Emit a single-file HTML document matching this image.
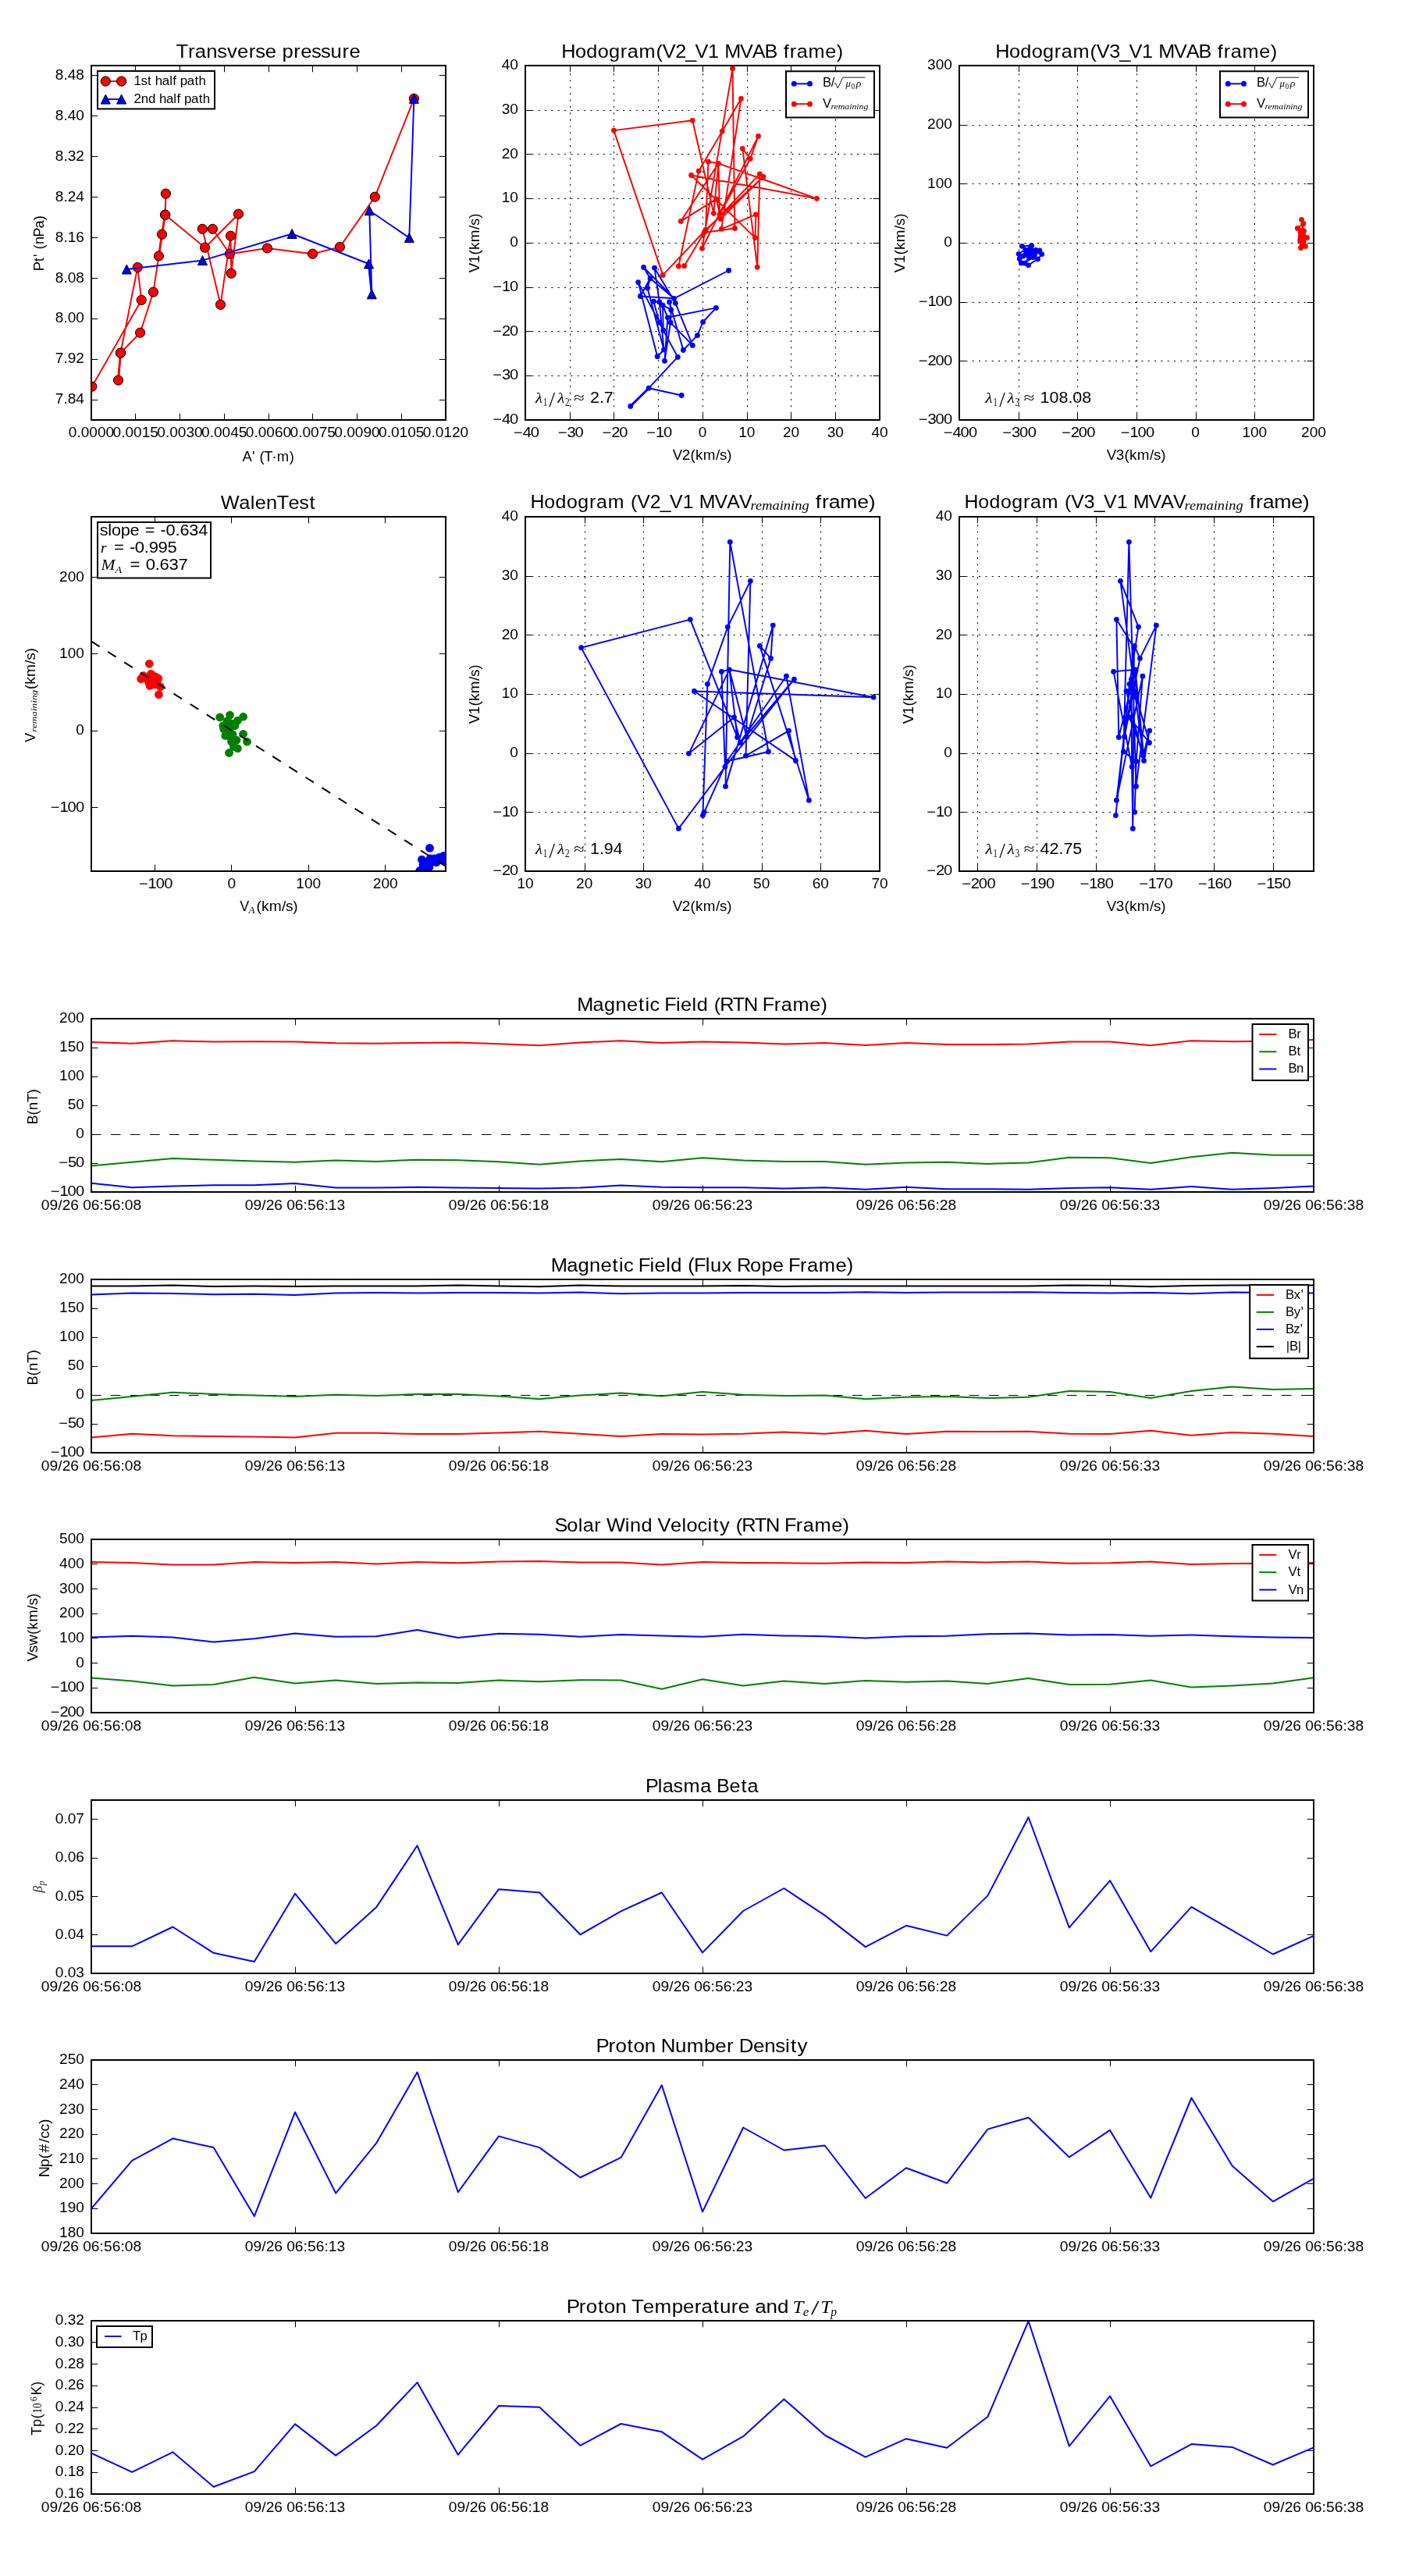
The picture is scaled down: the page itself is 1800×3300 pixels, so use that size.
<!DOCTYPE html>
<html><head><meta charset="utf-8"><title>Flux rope analysis</title>
<style>html,body{margin:0;padding:0;background:#fff}svg{display:block}text{white-space:pre}</style>
</head><body>
<div style="will-change:transform;width:1800px;height:3300px">
<svg width="1800" height="3300" viewBox="0 0 1800 3300">
<rect x="0" y="0" width="1800" height="3300" fill="#ffffff"/>
<line x1="117.50" y1="538.00" x2="117.50" y2="529.70" stroke="#000000" stroke-width="1.00"/>
<line x1="117.50" y1="84.00" x2="117.50" y2="92.30" stroke="#000000" stroke-width="1.00"/>
<text transform="translate(87.84 560.00) scale(1.0632 1)" x="-0.00 9.98 14.96 24.94 34.91 44.89" y="0" font-family='"Liberation Sans", sans-serif' font-size="17.94" fill="#000000">0.0000</text>
<line x1="173.50" y1="538.00" x2="173.50" y2="529.70" stroke="#000000" stroke-width="1.00"/>
<line x1="173.50" y1="84.00" x2="173.50" y2="92.30" stroke="#000000" stroke-width="1.00"/>
<text transform="translate(144.59 560.00) scale(1.0632 1)" x="-0.00 9.98 14.96 24.94 34.91 44.89" y="0" font-family='"Liberation Sans", sans-serif' font-size="17.94" fill="#000000">0.0015</text>
<line x1="230.50" y1="538.00" x2="230.50" y2="529.70" stroke="#000000" stroke-width="1.00"/>
<line x1="230.50" y1="84.00" x2="230.50" y2="92.30" stroke="#000000" stroke-width="1.00"/>
<text transform="translate(201.34 560.00) scale(1.0632 1)" x="-0.00 9.98 14.96 24.94 34.91 44.89" y="0" font-family='"Liberation Sans", sans-serif' font-size="17.94" fill="#000000">0.0030</text>
<line x1="287.50" y1="538.00" x2="287.50" y2="529.70" stroke="#000000" stroke-width="1.00"/>
<line x1="287.50" y1="84.00" x2="287.50" y2="92.30" stroke="#000000" stroke-width="1.00"/>
<text transform="translate(258.09 560.00) scale(1.0632 1)" x="-0.00 9.98 14.96 24.94 34.91 44.89" y="0" font-family='"Liberation Sans", sans-serif' font-size="17.94" fill="#000000">0.0045</text>
<line x1="344.50" y1="538.00" x2="344.50" y2="529.70" stroke="#000000" stroke-width="1.00"/>
<line x1="344.50" y1="84.00" x2="344.50" y2="92.30" stroke="#000000" stroke-width="1.00"/>
<text transform="translate(314.84 560.00) scale(1.0632 1)" x="-0.00 9.98 14.96 24.94 34.91 44.89" y="0" font-family='"Liberation Sans", sans-serif' font-size="17.94" fill="#000000">0.0060</text>
<line x1="400.50" y1="538.00" x2="400.50" y2="529.70" stroke="#000000" stroke-width="1.00"/>
<line x1="400.50" y1="84.00" x2="400.50" y2="92.30" stroke="#000000" stroke-width="1.00"/>
<text transform="translate(371.59 560.00) scale(1.0632 1)" x="-0.00 9.98 14.96 24.94 34.91 44.89" y="0" font-family='"Liberation Sans", sans-serif' font-size="17.94" fill="#000000">0.0075</text>
<line x1="457.50" y1="538.00" x2="457.50" y2="529.70" stroke="#000000" stroke-width="1.00"/>
<line x1="457.50" y1="84.00" x2="457.50" y2="92.30" stroke="#000000" stroke-width="1.00"/>
<text transform="translate(428.34 560.00) scale(1.0632 1)" x="-0.00 9.98 14.96 24.94 34.91 44.89" y="0" font-family='"Liberation Sans", sans-serif' font-size="17.94" fill="#000000">0.0090</text>
<line x1="514.50" y1="538.00" x2="514.50" y2="529.70" stroke="#000000" stroke-width="1.00"/>
<line x1="514.50" y1="84.00" x2="514.50" y2="92.30" stroke="#000000" stroke-width="1.00"/>
<text transform="translate(485.09 560.00) scale(1.0632 1)" x="-0.00 9.98 14.96 24.94 34.91 44.89" y="0" font-family='"Liberation Sans", sans-serif' font-size="17.94" fill="#000000">0.0105</text>
<line x1="571.50" y1="538.00" x2="571.50" y2="529.70" stroke="#000000" stroke-width="1.00"/>
<line x1="571.50" y1="84.00" x2="571.50" y2="92.30" stroke="#000000" stroke-width="1.00"/>
<text transform="translate(541.84 560.00) scale(1.0632 1)" x="-0.00 9.98 14.96 24.94 34.91 44.89" y="0" font-family='"Liberation Sans", sans-serif' font-size="17.94" fill="#000000">0.0120</text>
<line x1="117.00" y1="512.50" x2="125.30" y2="512.50" stroke="#000000" stroke-width="1.00"/>
<line x1="571.00" y1="512.50" x2="562.70" y2="512.50" stroke="#000000" stroke-width="1.00"/>
<text transform="translate(70.78 517.26) scale(1.0632 1)" x="-0.00 9.98 14.96 24.93" y="0" font-family='"Liberation Sans", sans-serif' font-size="17.94" fill="#000000">7.84</text>
<line x1="117.00" y1="460.50" x2="125.30" y2="460.50" stroke="#000000" stroke-width="1.00"/>
<line x1="571.00" y1="460.50" x2="562.70" y2="460.50" stroke="#000000" stroke-width="1.00"/>
<text transform="translate(70.78 465.37) scale(1.0632 1)" x="-0.00 9.98 14.96 24.93" y="0" font-family='"Liberation Sans", sans-serif' font-size="17.94" fill="#000000">7.92</text>
<line x1="117.00" y1="408.50" x2="125.30" y2="408.50" stroke="#000000" stroke-width="1.00"/>
<line x1="571.00" y1="408.50" x2="562.70" y2="408.50" stroke="#000000" stroke-width="1.00"/>
<text transform="translate(70.78 413.49) scale(1.0632 1)" x="-0.00 9.98 14.96 24.93" y="0" font-family='"Liberation Sans", sans-serif' font-size="17.94" fill="#000000">8.00</text>
<line x1="117.00" y1="356.50" x2="125.30" y2="356.50" stroke="#000000" stroke-width="1.00"/>
<line x1="571.00" y1="356.50" x2="562.70" y2="356.50" stroke="#000000" stroke-width="1.00"/>
<text transform="translate(70.78 361.60) scale(1.0632 1)" x="-0.00 9.98 14.96 24.93" y="0" font-family='"Liberation Sans", sans-serif' font-size="17.94" fill="#000000">8.08</text>
<line x1="117.00" y1="304.50" x2="125.30" y2="304.50" stroke="#000000" stroke-width="1.00"/>
<line x1="571.00" y1="304.50" x2="562.70" y2="304.50" stroke="#000000" stroke-width="1.00"/>
<text transform="translate(70.78 309.71) scale(1.0632 1)" x="-0.00 9.98 14.96 24.93" y="0" font-family='"Liberation Sans", sans-serif' font-size="17.94" fill="#000000">8.16</text>
<line x1="117.00" y1="252.50" x2="125.30" y2="252.50" stroke="#000000" stroke-width="1.00"/>
<line x1="571.00" y1="252.50" x2="562.70" y2="252.50" stroke="#000000" stroke-width="1.00"/>
<text transform="translate(70.78 257.83) scale(1.0632 1)" x="-0.00 9.98 14.96 24.93" y="0" font-family='"Liberation Sans", sans-serif' font-size="17.94" fill="#000000">8.24</text>
<line x1="117.00" y1="200.50" x2="125.30" y2="200.50" stroke="#000000" stroke-width="1.00"/>
<line x1="571.00" y1="200.50" x2="562.70" y2="200.50" stroke="#000000" stroke-width="1.00"/>
<text transform="translate(70.78 205.94) scale(1.0632 1)" x="-0.00 9.98 14.96 24.93" y="0" font-family='"Liberation Sans", sans-serif' font-size="17.94" fill="#000000">8.32</text>
<line x1="117.00" y1="148.50" x2="125.30" y2="148.50" stroke="#000000" stroke-width="1.00"/>
<line x1="571.00" y1="148.50" x2="562.70" y2="148.50" stroke="#000000" stroke-width="1.00"/>
<text transform="translate(70.78 154.06) scale(1.0632 1)" x="-0.00 9.98 14.96 24.93" y="0" font-family='"Liberation Sans", sans-serif' font-size="17.94" fill="#000000">8.40</text>
<line x1="117.00" y1="96.50" x2="125.30" y2="96.50" stroke="#000000" stroke-width="1.00"/>
<line x1="571.00" y1="96.50" x2="562.70" y2="96.50" stroke="#000000" stroke-width="1.00"/>
<text transform="translate(70.78 102.17) scale(1.0632 1)" x="-0.00 9.98 14.96 24.93" y="0" font-family='"Liberation Sans", sans-serif' font-size="17.94" fill="#000000">8.48</text>
<clipPath id="c1"><rect x="117" y="84" width="454" height="454"/></clipPath><g clip-path="url(#c1)">
<polyline fill="none" stroke="#ff0000" stroke-width="1.95" stroke-linejoin="round" points="117.8,495.2 181.2,384.4 176.3,342.5 154.4,452.3 151.5,487.1 154.6,452.0 179.6,426.2 196.4,374.2 203.4,328.0 207.5,300.2 211.5,275.1 212.4,248.1 211.8,275.3 262.5,317.2 305.5,274.2 296.3,350.2 295.5,302.2 282.5,390.3 259.3,293.3 272.4,293.3 294.3,325.2 342.4,318.0 400.5,325.2 435.4,316.4 480.3,252.2 530.4,126.3"/>
<path fill="none" stroke="#ff0000" stroke-width="2.90" stroke-linecap="round" d="M154.4 452.3L151.5 487.1 M203.4 328.0L207.5 300.2 M207.5 300.2L211.5 275.1"/>
<circle cx="117.8" cy="495.2" r="6.1" fill="#ff0000" stroke="#000" stroke-width="1"/>
<circle cx="181.2" cy="384.4" r="6.1" fill="#ff0000" stroke="#000" stroke-width="1"/>
<circle cx="176.3" cy="342.5" r="6.1" fill="#ff0000" stroke="#000" stroke-width="1"/>
<circle cx="154.4" cy="452.3" r="6.1" fill="#ff0000" stroke="#000" stroke-width="1"/>
<circle cx="151.5" cy="487.1" r="6.1" fill="#ff0000" stroke="#000" stroke-width="1"/>
<circle cx="154.6" cy="452.0" r="6.1" fill="#ff0000" stroke="#000" stroke-width="1"/>
<circle cx="179.6" cy="426.2" r="6.1" fill="#ff0000" stroke="#000" stroke-width="1"/>
<circle cx="196.4" cy="374.2" r="6.1" fill="#ff0000" stroke="#000" stroke-width="1"/>
<circle cx="203.4" cy="328.0" r="6.1" fill="#ff0000" stroke="#000" stroke-width="1"/>
<circle cx="207.5" cy="300.2" r="6.1" fill="#ff0000" stroke="#000" stroke-width="1"/>
<circle cx="211.5" cy="275.1" r="6.1" fill="#ff0000" stroke="#000" stroke-width="1"/>
<circle cx="212.4" cy="248.1" r="6.1" fill="#ff0000" stroke="#000" stroke-width="1"/>
<circle cx="211.8" cy="275.3" r="6.1" fill="#ff0000" stroke="#000" stroke-width="1"/>
<circle cx="262.5" cy="317.2" r="6.1" fill="#ff0000" stroke="#000" stroke-width="1"/>
<circle cx="305.5" cy="274.2" r="6.1" fill="#ff0000" stroke="#000" stroke-width="1"/>
<circle cx="296.3" cy="350.2" r="6.1" fill="#ff0000" stroke="#000" stroke-width="1"/>
<circle cx="295.5" cy="302.2" r="6.1" fill="#ff0000" stroke="#000" stroke-width="1"/>
<circle cx="282.5" cy="390.3" r="6.1" fill="#ff0000" stroke="#000" stroke-width="1"/>
<circle cx="259.3" cy="293.3" r="6.1" fill="#ff0000" stroke="#000" stroke-width="1"/>
<circle cx="272.4" cy="293.3" r="6.1" fill="#ff0000" stroke="#000" stroke-width="1"/>
<circle cx="294.3" cy="325.2" r="6.1" fill="#ff0000" stroke="#000" stroke-width="1"/>
<circle cx="342.4" cy="318.0" r="6.1" fill="#ff0000" stroke="#000" stroke-width="1"/>
<circle cx="400.5" cy="325.2" r="6.1" fill="#ff0000" stroke="#000" stroke-width="1"/>
<circle cx="435.4" cy="316.4" r="6.1" fill="#ff0000" stroke="#000" stroke-width="1"/>
<circle cx="480.3" cy="252.2" r="6.1" fill="#ff0000" stroke="#000" stroke-width="1"/>
<circle cx="530.4" cy="126.3" r="6.1" fill="#ff0000" stroke="#000" stroke-width="1"/>
<polyline fill="none" stroke="#0000ff" stroke-width="1.95" stroke-linejoin="round" points="162.3,345.0 259.5,333.6 374.1,299.5 472.5,338.0 476.3,376.8 473.3,269.7 524.3,304.6 530.4,126.3"/>
<path fill="none" stroke="#0000ff" stroke-width="2.90" stroke-linecap="round" d="M472.5 338.0L476.3 376.8"/>
<path d="M162.3 339.0L156.3 351.0L168.3 351.0Z" fill="#0000ff" stroke="#000" stroke-width="1"/>
<path d="M259.5 327.6L253.5 339.6L265.5 339.6Z" fill="#0000ff" stroke="#000" stroke-width="1"/>
<path d="M374.1 293.5L368.1 305.5L380.1 305.5Z" fill="#0000ff" stroke="#000" stroke-width="1"/>
<path d="M472.5 332.0L466.5 344.0L478.5 344.0Z" fill="#0000ff" stroke="#000" stroke-width="1"/>
<path d="M476.3 370.8L470.3 382.8L482.3 382.8Z" fill="#0000ff" stroke="#000" stroke-width="1"/>
<path d="M473.3 263.7L467.3 275.7L479.3 275.7Z" fill="#0000ff" stroke="#000" stroke-width="1"/>
<path d="M524.3 298.6L518.3 310.6L530.3 310.6Z" fill="#0000ff" stroke="#000" stroke-width="1"/>
<path d="M530.4 120.3L524.4 132.3L536.4 132.3Z" fill="#0000ff" stroke="#000" stroke-width="1"/>
</g>
<rect x="117" y="84" width="454" height="454" fill="none" stroke="#000" stroke-width="2"/>
<text transform="translate(226.41 74.00) scale(1.0373 1)" x="-0.78 13.99 22.58 36.40 49.90 62.23 74.92 89.06 97.33 109.23 123.02 130.14 144.49 153.11 166.41 177.96 190.07 204.41 213.03" y="0" font-family='"Liberation Sans", sans-serif' font-size="24.72" fill="#000000">Transverse pressure</text>
<text transform="translate(310.99 590.90) scale(1.0284 1)" x="-0.44 11.60 15.63 20.87 26.49 36.51 42.50 58.04" y="0" font-family='"Liberation Sans", sans-serif' font-size="17.94" fill="#000000">A' (T·m)</text>
<text transform="rotate(-90 55.70 311.00) translate(20.54 311.00) scale(1.0158 1)" x="-1.03 10.62 16.87 20.96 26.27 32.67 41.83 52.80 63.03" y="0" font-family='"Liberation Sans", sans-serif' font-size="17.94" fill="#000000">Pt' (nPa)</text>
<rect x="125.0" y="91.0" width="150.0" height="48.5" fill="#fff" stroke="#000" stroke-width="2"/>
<line x1="135.30" y1="104.10" x2="155.60" y2="104.10" stroke="#ff0000" stroke-width="1.95"/>
<circle cx="135.3" cy="104.1" r="6.1" fill="#ff0000" stroke="#000" stroke-width="1"/>
<circle cx="155.6" cy="104.1" r="6.1" fill="#ff0000" stroke="#000" stroke-width="1"/>
<line x1="135.30" y1="127.10" x2="155.60" y2="127.10" stroke="#0000ff" stroke-width="1.95"/>
<path d="M135.3 121.1L129.3 133.1L141.3 133.1Z" fill="#0000ff" stroke="#000" stroke-width="1"/>
<path d="M155.6 121.1L149.6 133.1L161.6 133.1Z" fill="#0000ff" stroke="#000" stroke-width="1"/>
<text transform="translate(171.60 109.20) scale(1.0200 1)" x="-0.07 8.66 17.04 22.11 26.60 35.51 44.65 48.69 53.48 57.97 66.89 76.39 81.40" y="0" font-family='"Liberation Sans", sans-serif' font-size="16.62" fill="#000000">1st half path</text>
<text transform="translate(171.60 132.00) scale(1.0149 1)" x="-0.05 9.07 18.18 27.34 31.86 40.82 49.99 54.05 58.86 63.39 72.35 81.89 86.94" y="0" font-family='"Liberation Sans", sans-serif' font-size="16.62" fill="#000000">2nd half path</text>
<line x1="730.50" y1="538.00" x2="730.50" y2="84.00" stroke="#000000" stroke-width="1.00" stroke-dasharray="2.0833,6.25"/>
<line x1="786.50" y1="538.00" x2="786.50" y2="84.00" stroke="#000000" stroke-width="1.00" stroke-dasharray="2.0833,6.25"/>
<line x1="843.50" y1="538.00" x2="843.50" y2="84.00" stroke="#000000" stroke-width="1.00" stroke-dasharray="2.0833,6.25"/>
<line x1="900.50" y1="538.00" x2="900.50" y2="84.00" stroke="#000000" stroke-width="1.00" stroke-dasharray="2.0833,6.25"/>
<line x1="957.50" y1="538.00" x2="957.50" y2="84.00" stroke="#000000" stroke-width="1.00" stroke-dasharray="2.0833,6.25"/>
<line x1="1013.50" y1="538.00" x2="1013.50" y2="84.00" stroke="#000000" stroke-width="1.00" stroke-dasharray="2.0833,6.25"/>
<line x1="1070.50" y1="538.00" x2="1070.50" y2="84.00" stroke="#000000" stroke-width="1.00" stroke-dasharray="2.0833,6.25"/>
<line x1="673.00" y1="481.50" x2="1127.00" y2="481.50" stroke="#000000" stroke-width="1.00" stroke-dasharray="2.0833,6.25"/>
<line x1="673.00" y1="424.50" x2="1127.00" y2="424.50" stroke="#000000" stroke-width="1.00" stroke-dasharray="2.0833,6.25"/>
<line x1="673.00" y1="368.50" x2="1127.00" y2="368.50" stroke="#000000" stroke-width="1.00" stroke-dasharray="2.0833,6.25"/>
<line x1="673.00" y1="311.50" x2="1127.00" y2="311.50" stroke="#000000" stroke-width="1.00" stroke-dasharray="2.0833,6.25"/>
<line x1="673.00" y1="254.50" x2="1127.00" y2="254.50" stroke="#000000" stroke-width="1.00" stroke-dasharray="2.0833,6.25"/>
<line x1="673.00" y1="197.50" x2="1127.00" y2="197.50" stroke="#000000" stroke-width="1.00" stroke-dasharray="2.0833,6.25"/>
<line x1="673.00" y1="141.50" x2="1127.00" y2="141.50" stroke="#000000" stroke-width="1.00" stroke-dasharray="2.0833,6.25"/>
<line x1="673.50" y1="538.00" x2="673.50" y2="529.70" stroke="#000000" stroke-width="1.00"/>
<line x1="673.50" y1="84.00" x2="673.50" y2="92.30" stroke="#000000" stroke-width="1.00"/>
<text transform="translate(655.41 560.00) scale(1.1200 1)" x="2.34 12.75 21.69" y="0" font-family='"Liberation Sans", sans-serif' font-size="17.94" fill="#000000">−40</text>
<line x1="730.50" y1="538.00" x2="730.50" y2="529.70" stroke="#000000" stroke-width="1.00"/>
<line x1="730.50" y1="84.00" x2="730.50" y2="92.30" stroke="#000000" stroke-width="1.00"/>
<text transform="translate(712.16 560.00) scale(1.1200 1)" x="2.34 12.75 21.69" y="0" font-family='"Liberation Sans", sans-serif' font-size="17.94" fill="#000000">−30</text>
<line x1="786.50" y1="538.00" x2="786.50" y2="529.70" stroke="#000000" stroke-width="1.00"/>
<line x1="786.50" y1="84.00" x2="786.50" y2="92.30" stroke="#000000" stroke-width="1.00"/>
<text transform="translate(768.91 560.00) scale(1.1200 1)" x="2.34 12.75 21.69" y="0" font-family='"Liberation Sans", sans-serif' font-size="17.94" fill="#000000">−20</text>
<line x1="843.50" y1="538.00" x2="843.50" y2="529.70" stroke="#000000" stroke-width="1.00"/>
<line x1="843.50" y1="84.00" x2="843.50" y2="92.30" stroke="#000000" stroke-width="1.00"/>
<text transform="translate(825.66 560.00) scale(1.1200 1)" x="2.34 12.75 21.69" y="0" font-family='"Liberation Sans", sans-serif' font-size="17.94" fill="#000000">−10</text>
<line x1="900.50" y1="538.00" x2="900.50" y2="529.70" stroke="#000000" stroke-width="1.00"/>
<line x1="900.50" y1="84.00" x2="900.50" y2="92.30" stroke="#000000" stroke-width="1.00"/>
<text transform="translate(894.70 560.00) scale(1.0632 1)" x="0.00" y="0" font-family='"Liberation Sans", sans-serif' font-size="17.94" fill="#000000">0</text>
<line x1="957.50" y1="538.00" x2="957.50" y2="529.70" stroke="#000000" stroke-width="1.00"/>
<line x1="957.50" y1="84.00" x2="957.50" y2="92.30" stroke="#000000" stroke-width="1.00"/>
<text transform="translate(946.14 560.00) scale(1.0632 1)" x="0.00 9.98" y="0" font-family='"Liberation Sans", sans-serif' font-size="17.94" fill="#000000">10</text>
<line x1="1013.50" y1="538.00" x2="1013.50" y2="529.70" stroke="#000000" stroke-width="1.00"/>
<line x1="1013.50" y1="84.00" x2="1013.50" y2="92.30" stroke="#000000" stroke-width="1.00"/>
<text transform="translate(1002.89 560.00) scale(1.0632 1)" x="0.00 9.98" y="0" font-family='"Liberation Sans", sans-serif' font-size="17.94" fill="#000000">20</text>
<line x1="1070.50" y1="538.00" x2="1070.50" y2="529.70" stroke="#000000" stroke-width="1.00"/>
<line x1="1070.50" y1="84.00" x2="1070.50" y2="92.30" stroke="#000000" stroke-width="1.00"/>
<text transform="translate(1059.64 560.00) scale(1.0632 1)" x="0.00 9.98" y="0" font-family='"Liberation Sans", sans-serif' font-size="17.94" fill="#000000">30</text>
<line x1="1127.50" y1="538.00" x2="1127.50" y2="529.70" stroke="#000000" stroke-width="1.00"/>
<line x1="1127.50" y1="84.00" x2="1127.50" y2="92.30" stroke="#000000" stroke-width="1.00"/>
<text transform="translate(1116.39 560.00) scale(1.0632 1)" x="0.00 9.98" y="0" font-family='"Liberation Sans", sans-serif' font-size="17.94" fill="#000000">40</text>
<line x1="673.00" y1="538.50" x2="681.30" y2="538.50" stroke="#000000" stroke-width="1.00"/>
<line x1="1127.00" y1="538.50" x2="1118.70" y2="538.50" stroke="#000000" stroke-width="1.00"/>
<text transform="translate(628.72 543.20) scale(1.1200 1)" x="2.34 12.75 21.69" y="0" font-family='"Liberation Sans", sans-serif' font-size="17.94" fill="#000000">−40</text>
<line x1="673.00" y1="481.50" x2="681.30" y2="481.50" stroke="#000000" stroke-width="1.00"/>
<line x1="1127.00" y1="481.50" x2="1118.70" y2="481.50" stroke="#000000" stroke-width="1.00"/>
<text transform="translate(628.72 486.45) scale(1.1200 1)" x="2.34 12.75 21.69" y="0" font-family='"Liberation Sans", sans-serif' font-size="17.94" fill="#000000">−30</text>
<line x1="673.00" y1="424.50" x2="681.30" y2="424.50" stroke="#000000" stroke-width="1.00"/>
<line x1="1127.00" y1="424.50" x2="1118.70" y2="424.50" stroke="#000000" stroke-width="1.00"/>
<text transform="translate(628.72 429.70) scale(1.1200 1)" x="2.34 12.75 21.69" y="0" font-family='"Liberation Sans", sans-serif' font-size="17.94" fill="#000000">−20</text>
<line x1="673.00" y1="368.50" x2="681.30" y2="368.50" stroke="#000000" stroke-width="1.00"/>
<line x1="1127.00" y1="368.50" x2="1118.70" y2="368.50" stroke="#000000" stroke-width="1.00"/>
<text transform="translate(628.72 372.95) scale(1.1200 1)" x="2.34 12.75 21.69" y="0" font-family='"Liberation Sans", sans-serif' font-size="17.94" fill="#000000">−10</text>
<line x1="673.00" y1="311.50" x2="681.30" y2="311.50" stroke="#000000" stroke-width="1.00"/>
<line x1="1127.00" y1="311.50" x2="1118.70" y2="311.50" stroke="#000000" stroke-width="1.00"/>
<text transform="translate(653.29 316.20) scale(1.0632 1)" x="0.00" y="0" font-family='"Liberation Sans", sans-serif' font-size="17.94" fill="#000000">0</text>
<line x1="673.00" y1="254.50" x2="681.30" y2="254.50" stroke="#000000" stroke-width="1.00"/>
<line x1="1127.00" y1="254.50" x2="1118.70" y2="254.50" stroke="#000000" stroke-width="1.00"/>
<text transform="translate(642.69 259.45) scale(1.0632 1)" x="0.00 9.98" y="0" font-family='"Liberation Sans", sans-serif' font-size="17.94" fill="#000000">10</text>
<line x1="673.00" y1="197.50" x2="681.30" y2="197.50" stroke="#000000" stroke-width="1.00"/>
<line x1="1127.00" y1="197.50" x2="1118.70" y2="197.50" stroke="#000000" stroke-width="1.00"/>
<text transform="translate(642.69 202.70) scale(1.0632 1)" x="0.00 9.98" y="0" font-family='"Liberation Sans", sans-serif' font-size="17.94" fill="#000000">20</text>
<line x1="673.00" y1="141.50" x2="681.30" y2="141.50" stroke="#000000" stroke-width="1.00"/>
<line x1="1127.00" y1="141.50" x2="1118.70" y2="141.50" stroke="#000000" stroke-width="1.00"/>
<text transform="translate(642.69 145.95) scale(1.0632 1)" x="0.00 9.98" y="0" font-family='"Liberation Sans", sans-serif' font-size="17.94" fill="#000000">30</text>
<line x1="673.00" y1="84.50" x2="681.30" y2="84.50" stroke="#000000" stroke-width="1.00"/>
<line x1="1127.00" y1="84.50" x2="1118.70" y2="84.50" stroke="#000000" stroke-width="1.00"/>
<text transform="translate(642.69 89.20) scale(1.0632 1)" x="0.00 9.98" y="0" font-family='"Liberation Sans", sans-serif' font-size="17.94" fill="#000000">40</text>
<clipPath id="c2"><rect x="673" y="84" width="454" height="454"/></clipPath><g clip-path="url(#c2)">
<path fill="none" stroke="#ff0000" stroke-width="1.95" stroke-linecap="round" d="M786.4 167.1L887.2 154.3 M786.4 167.1L849.2 352.4 M887.2 154.3L914.3 273.3 M849.2 352.4L904.0 294.5 M938.5 87.7L941.4 292.5 M938.5 87.7L899.5 318.2 M949.4 126.4L925.2 168.3 M925.2 168.3L895.2 219.1 M949.4 126.4L924.3 293.3 M971.5 174.4L961.3 203.3 M951.3 190.3L961.3 203.3 M951.3 190.3L970.2 342.2 M973.4 222.8L970.2 342.2 M885.6 224.5L967.4 304.6 M885.6 224.5L1046.4 254.3 M920.4 209.3L1046.4 254.3 M920.4 209.3L872.3 283.4 M872.3 283.4L917.9 254.8 M895.2 219.1L869.4 341.0 M876.6 340.7L902.1 298.0 M941.4 292.5L902.1 298.0 M968.4 274.8L924.3 293.3 M968.4 274.8L967.4 304.6 M907.4 207.2L904.0 294.5 M971.5 174.4L899.5 318.2 M961.3 203.3L922.0 274.5 M973.4 222.8L902.1 298.0 M977.9 226.4L904.0 294.5 M920.4 209.3L922.0 274.5 M920.4 209.3L914.3 273.3 M917.9 254.8L923.2 280.5 M907.4 207.2L920.4 209.3 M977.9 226.4L923.2 280.5"/>
<circle cx="938.5" cy="87.7" r="3.40" fill="#ff0000"/>
<circle cx="949.4" cy="126.4" r="3.40" fill="#ff0000"/>
<circle cx="887.2" cy="154.3" r="3.40" fill="#ff0000"/>
<circle cx="786.4" cy="167.1" r="3.40" fill="#ff0000"/>
<circle cx="925.2" cy="168.3" r="3.40" fill="#ff0000"/>
<circle cx="971.5" cy="174.4" r="3.40" fill="#ff0000"/>
<circle cx="951.3" cy="190.3" r="3.40" fill="#ff0000"/>
<circle cx="961.3" cy="203.3" r="3.40" fill="#ff0000"/>
<circle cx="907.4" cy="207.2" r="3.40" fill="#ff0000"/>
<circle cx="920.4" cy="209.3" r="3.40" fill="#ff0000"/>
<circle cx="895.2" cy="219.1" r="3.40" fill="#ff0000"/>
<circle cx="885.6" cy="224.5" r="3.40" fill="#ff0000"/>
<circle cx="973.4" cy="222.8" r="3.40" fill="#ff0000"/>
<circle cx="977.9" cy="226.4" r="3.40" fill="#ff0000"/>
<circle cx="1046.4" cy="254.3" r="3.40" fill="#ff0000"/>
<circle cx="917.9" cy="254.8" r="3.40" fill="#ff0000"/>
<circle cx="914.3" cy="273.3" r="3.40" fill="#ff0000"/>
<circle cx="922.0" cy="274.5" r="3.40" fill="#ff0000"/>
<circle cx="923.2" cy="280.5" r="3.40" fill="#ff0000"/>
<circle cx="968.4" cy="274.8" r="3.40" fill="#ff0000"/>
<circle cx="872.3" cy="283.4" r="3.40" fill="#ff0000"/>
<circle cx="941.4" cy="292.5" r="3.40" fill="#ff0000"/>
<circle cx="924.3" cy="293.3" r="3.40" fill="#ff0000"/>
<circle cx="902.1" cy="298.0" r="3.40" fill="#ff0000"/>
<circle cx="904.0" cy="294.5" r="3.40" fill="#ff0000"/>
<circle cx="967.4" cy="304.6" r="3.40" fill="#ff0000"/>
<circle cx="899.5" cy="318.2" r="3.40" fill="#ff0000"/>
<circle cx="869.4" cy="341.0" r="3.40" fill="#ff0000"/>
<circle cx="876.6" cy="340.7" r="3.40" fill="#ff0000"/>
<circle cx="970.2" cy="342.2" r="3.40" fill="#ff0000"/>
<circle cx="849.2" cy="352.4" r="3.40" fill="#ff0000"/>
<path fill="none" stroke="#0000ff" stroke-width="1.95" stroke-linecap="round" d="M807.7 520.4L831.2 497.2 M831.2 497.2L873.2 506.5 M831.2 497.2L868.3 457.4 M868.3 457.4L849.8 423.2 M863.6 382.3L933.5 346.5 M917.4 394.4L900.6 412.5 M900.6 412.5L893.5 429.6 M893.5 429.6L875.4 448.5 M917.4 394.4L855.4 406.8 M865.4 388.3L887.3 442.4 M857.6 386.9L875.4 448.5 M859.0 413.2L887.3 442.4 M824.6 342.5L863.6 382.3 M833.0 356.7L863.6 382.3 M838.5 343.2L844.8 386.9 M844.8 386.9L850.5 448.1 M817.6 361.6L842.2 456.7 M817.6 361.6L844.8 413.2 M829.5 369.1L833.0 356.7 M829.5 369.1L850.5 448.1 M820.3 379.5L863.6 382.3 M820.3 379.5L833.0 356.7 M842.2 456.7L850.5 448.1 M851.5 462.3L855.4 406.8 M837.4 386.2L844.8 386.9 M844.8 386.9L849.0 390.9 M849.0 390.9L859.7 396.9 M859.7 396.9L859.0 413.2 M837.4 386.2L844.8 413.2 M849.0 390.9L849.8 423.2 M857.6 386.9L859.7 396.9 M855.4 406.8L849.0 390.9 M824.6 342.5L833.0 356.7 M838.5 343.2L865.4 388.3 M844.8 413.2L849.8 423.2 M851.5 462.3L859.0 413.2"/>
<path fill="none" stroke="#0000ff" stroke-width="3.00" stroke-linecap="round" d="M807.7 520.4L831.2 497.2"/>
<circle cx="824.6" cy="342.5" r="3.40" fill="#0000ff"/>
<circle cx="838.5" cy="343.2" r="3.40" fill="#0000ff"/>
<circle cx="833.0" cy="356.7" r="3.40" fill="#0000ff"/>
<circle cx="817.6" cy="361.6" r="3.40" fill="#0000ff"/>
<circle cx="829.5" cy="369.1" r="3.40" fill="#0000ff"/>
<circle cx="820.3" cy="379.5" r="3.40" fill="#0000ff"/>
<circle cx="863.6" cy="382.3" r="3.40" fill="#0000ff"/>
<circle cx="933.5" cy="346.5" r="3.40" fill="#0000ff"/>
<circle cx="837.4" cy="386.2" r="3.40" fill="#0000ff"/>
<circle cx="844.8" cy="386.9" r="3.40" fill="#0000ff"/>
<circle cx="857.6" cy="386.9" r="3.40" fill="#0000ff"/>
<circle cx="865.4" cy="388.3" r="3.40" fill="#0000ff"/>
<circle cx="849.0" cy="390.9" r="3.40" fill="#0000ff"/>
<circle cx="859.7" cy="396.9" r="3.40" fill="#0000ff"/>
<circle cx="917.4" cy="394.4" r="3.40" fill="#0000ff"/>
<circle cx="855.4" cy="406.8" r="3.40" fill="#0000ff"/>
<circle cx="844.8" cy="413.2" r="3.40" fill="#0000ff"/>
<circle cx="859.0" cy="413.2" r="3.40" fill="#0000ff"/>
<circle cx="900.6" cy="412.5" r="3.40" fill="#0000ff"/>
<circle cx="849.8" cy="423.2" r="3.40" fill="#0000ff"/>
<circle cx="893.5" cy="429.6" r="3.40" fill="#0000ff"/>
<circle cx="887.3" cy="442.4" r="3.40" fill="#0000ff"/>
<circle cx="875.4" cy="448.5" r="3.40" fill="#0000ff"/>
<circle cx="850.5" cy="448.1" r="3.40" fill="#0000ff"/>
<circle cx="842.2" cy="456.7" r="3.40" fill="#0000ff"/>
<circle cx="851.5" cy="462.3" r="3.40" fill="#0000ff"/>
<circle cx="868.3" cy="457.4" r="3.40" fill="#0000ff"/>
<circle cx="831.2" cy="497.2" r="3.40" fill="#0000ff"/>
<circle cx="873.2" cy="506.5" r="3.40" fill="#0000ff"/>
<circle cx="807.7" cy="520.4" r="3.40" fill="#0000ff"/>
</g>
<rect x="1007.0" y="91.3" width="113.0" height="59.2" fill="#fff" stroke="#000" stroke-width="2"/>
<line x1="1017.30" y1="107.30" x2="1037.50" y2="107.30" stroke="#0000ff" stroke-width="1.95"/>
<circle cx="1017.3" cy="107.3" r="3.50" fill="#0000ff"/>
<circle cx="1037.5" cy="107.3" r="3.50" fill="#0000ff"/>
<line x1="1017.30" y1="133.20" x2="1037.50" y2="133.20" stroke="#ff0000" stroke-width="1.95"/>
<circle cx="1017.3" cy="133.2" r="3.50" fill="#ff0000"/>
<circle cx="1037.5" cy="133.2" r="3.50" fill="#ff0000"/>
<text transform="translate(1054.50 110.70) scale(1.0000 1)" x="-0.54 10.15" y="0" font-family='"Liberation Sans", sans-serif' font-size="16.62" fill="#000000">B/</text>
<path d="M1068.9 107.5l1.5 -1.0l3.0 6.5l6.4 -13.8h28.4" fill="none" stroke="#000" stroke-width="0.9"/>
<text x="1083.60" y="111.20" font-family='"Liberation Serif", serif' font-size="13.20" font-style="italic" fill="#000000" textLength="6.40" lengthAdjust="spacingAndGlyphs">μ</text>
<text x="1090.50" y="113.60" font-family='"Liberation Serif", serif' font-size="9.40" fill="#000000" textLength="4.60" lengthAdjust="spacingAndGlyphs">0</text>
<text x="1096.70" y="111.20" font-family='"Liberation Serif", serif' font-size="13.20" font-style="italic" fill="#000000" textLength="6.60" lengthAdjust="spacingAndGlyphs">ρ</text>
<text transform="translate(1054.50 137.60) scale(1.0000 1)" x="-0.56" y="0" font-family='"Liberation Sans", sans-serif' font-size="16.62" fill="#000000">V</text>
<text x="1064.40" y="139.60" font-family='"Liberation Serif", serif' font-size="9.80" font-style="italic" fill="#000000" textLength="48.00" lengthAdjust="spacingAndGlyphs">remaining</text>
<text x="686.00" y="516.00" font-family='"Liberation Serif", serif' font-size="18.75" font-style="italic" fill="#000000" textLength="9.00" lengthAdjust="spacingAndGlyphs">λ</text>
<text x="696.00" y="519.90" font-family='"Liberation Serif", serif' font-size="14.50" fill="#000000" textLength="5.20" lengthAdjust="spacingAndGlyphs">1</text>
<text x="703.60" y="520.70" font-family='"Liberation Serif", serif' font-size="27.00" fill="#000000">/</text>
<text x="714.20" y="516.00" font-family='"Liberation Serif", serif' font-size="18.75" font-style="italic" fill="#000000" textLength="9.00" lengthAdjust="spacingAndGlyphs">λ</text>
<text x="724.00" y="519.90" font-family='"Liberation Serif", serif' font-size="14.50" fill="#000000" textLength="5.60" lengthAdjust="spacingAndGlyphs">2</text>
<text x="735.00" y="515.50" font-family='"Liberation Serif", serif' font-size="19.50" fill="#000000" textLength="13.80" lengthAdjust="spacingAndGlyphs">≈</text>
<text transform="translate(756.00 516.00) scale(1.0895 1)" x="-0.00 10.95 16.42" y="0" font-family='"Liberation Sans", sans-serif' font-size="19.69" fill="#000000">2.7</text>
<rect x="673" y="84" width="454" height="454" fill="none" stroke="#000" stroke-width="2"/>
<text transform="translate(719.66 74.00) scale(1.0213 1)" x="-0.46 16.95 30.98 45.02 59.06 73.59 82.36 96.81 118.35 126.32 142.55 155.35 167.31 183.54 197.73 204.16 223.63 239.03 254.46 270.58 278.12 286.03 294.80 309.25 330.56 344.64" y="0" font-family='"Liberation Sans", sans-serif' font-size="24.72" fill="#000000">Hodogram(V2_V1 MVAB frame)</text>
<text transform="translate(862.39 588.90) scale(1.0483 1)" x="-0.54 10.95 21.11 27.32 36.68 52.09 56.92 65.66" y="0" font-family='"Liberation Sans", sans-serif' font-size="17.94" fill="#000000">V2(km/s)</text>
<text transform="rotate(-90 613.50 311.00) translate(575.89 311.00) scale(1.0483 1)" x="-0.54 10.95 21.11 27.32 36.68 52.09 56.92 65.66" y="0" font-family='"Liberation Sans", sans-serif' font-size="17.94" fill="#000000">V1(km/s)</text>
<line x1="1305.50" y1="538.00" x2="1305.50" y2="84.00" stroke="#000000" stroke-width="1.00" stroke-dasharray="2.0833,6.25"/>
<line x1="1380.50" y1="538.00" x2="1380.50" y2="84.00" stroke="#000000" stroke-width="1.00" stroke-dasharray="2.0833,6.25"/>
<line x1="1456.50" y1="538.00" x2="1456.50" y2="84.00" stroke="#000000" stroke-width="1.00" stroke-dasharray="2.0833,6.25"/>
<line x1="1532.50" y1="538.00" x2="1532.50" y2="84.00" stroke="#000000" stroke-width="1.00" stroke-dasharray="2.0833,6.25"/>
<line x1="1607.50" y1="538.00" x2="1607.50" y2="84.00" stroke="#000000" stroke-width="1.00" stroke-dasharray="2.0833,6.25"/>
<line x1="1229.00" y1="462.50" x2="1683.00" y2="462.50" stroke="#000000" stroke-width="1.00" stroke-dasharray="2.0833,6.25"/>
<line x1="1229.00" y1="387.50" x2="1683.00" y2="387.50" stroke="#000000" stroke-width="1.00" stroke-dasharray="2.0833,6.25"/>
<line x1="1229.00" y1="311.50" x2="1683.00" y2="311.50" stroke="#000000" stroke-width="1.00" stroke-dasharray="2.0833,6.25"/>
<line x1="1229.00" y1="235.50" x2="1683.00" y2="235.50" stroke="#000000" stroke-width="1.00" stroke-dasharray="2.0833,6.25"/>
<line x1="1229.00" y1="160.50" x2="1683.00" y2="160.50" stroke="#000000" stroke-width="1.00" stroke-dasharray="2.0833,6.25"/>
<line x1="1229.50" y1="538.00" x2="1229.50" y2="529.70" stroke="#000000" stroke-width="1.00"/>
<line x1="1229.50" y1="84.00" x2="1229.50" y2="92.30" stroke="#000000" stroke-width="1.00"/>
<text transform="translate(1206.11 560.00) scale(1.1200 1)" x="2.34 12.75 21.69 31.16" y="0" font-family='"Liberation Sans", sans-serif' font-size="17.94" fill="#000000">−400</text>
<line x1="1305.50" y1="538.00" x2="1305.50" y2="529.70" stroke="#000000" stroke-width="1.00"/>
<line x1="1305.50" y1="84.00" x2="1305.50" y2="92.30" stroke="#000000" stroke-width="1.00"/>
<text transform="translate(1281.77 560.00) scale(1.1200 1)" x="2.34 12.75 21.69 31.16" y="0" font-family='"Liberation Sans", sans-serif' font-size="17.94" fill="#000000">−300</text>
<line x1="1380.50" y1="538.00" x2="1380.50" y2="529.70" stroke="#000000" stroke-width="1.00"/>
<line x1="1380.50" y1="84.00" x2="1380.50" y2="92.30" stroke="#000000" stroke-width="1.00"/>
<text transform="translate(1357.44 560.00) scale(1.1200 1)" x="2.34 12.75 21.69 31.16" y="0" font-family='"Liberation Sans", sans-serif' font-size="17.94" fill="#000000">−200</text>
<line x1="1456.50" y1="538.00" x2="1456.50" y2="529.70" stroke="#000000" stroke-width="1.00"/>
<line x1="1456.50" y1="84.00" x2="1456.50" y2="92.30" stroke="#000000" stroke-width="1.00"/>
<text transform="translate(1433.11 560.00) scale(1.1200 1)" x="2.34 12.75 21.69 31.16" y="0" font-family='"Liberation Sans", sans-serif' font-size="17.94" fill="#000000">−100</text>
<line x1="1532.50" y1="538.00" x2="1532.50" y2="529.70" stroke="#000000" stroke-width="1.00"/>
<line x1="1532.50" y1="84.00" x2="1532.50" y2="92.30" stroke="#000000" stroke-width="1.00"/>
<text transform="translate(1526.36 560.00) scale(1.0632 1)" x="0.00" y="0" font-family='"Liberation Sans", sans-serif' font-size="17.94" fill="#000000">0</text>
<line x1="1607.50" y1="538.00" x2="1607.50" y2="529.70" stroke="#000000" stroke-width="1.00"/>
<line x1="1607.50" y1="84.00" x2="1607.50" y2="92.30" stroke="#000000" stroke-width="1.00"/>
<text transform="translate(1591.42 560.00) scale(1.0632 1)" x="0.00 9.98 19.95" y="0" font-family='"Liberation Sans", sans-serif' font-size="17.94" fill="#000000">100</text>
<line x1="1683.50" y1="538.00" x2="1683.50" y2="529.70" stroke="#000000" stroke-width="1.00"/>
<line x1="1683.50" y1="84.00" x2="1683.50" y2="92.30" stroke="#000000" stroke-width="1.00"/>
<text transform="translate(1667.09 560.00) scale(1.0632 1)" x="0.00 9.98 19.95" y="0" font-family='"Liberation Sans", sans-serif' font-size="17.94" fill="#000000">200</text>
<line x1="1229.00" y1="538.50" x2="1237.30" y2="538.50" stroke="#000000" stroke-width="1.00"/>
<line x1="1683.00" y1="538.50" x2="1674.70" y2="538.50" stroke="#000000" stroke-width="1.00"/>
<text transform="translate(1174.11 543.20) scale(1.1200 1)" x="2.34 12.75 21.69 31.16" y="0" font-family='"Liberation Sans", sans-serif' font-size="17.94" fill="#000000">−300</text>
<line x1="1229.00" y1="462.50" x2="1237.30" y2="462.50" stroke="#000000" stroke-width="1.00"/>
<line x1="1683.00" y1="462.50" x2="1674.70" y2="462.50" stroke="#000000" stroke-width="1.00"/>
<text transform="translate(1174.11 467.53) scale(1.1200 1)" x="2.34 12.75 21.69 31.16" y="0" font-family='"Liberation Sans", sans-serif' font-size="17.94" fill="#000000">−200</text>
<line x1="1229.00" y1="387.50" x2="1237.30" y2="387.50" stroke="#000000" stroke-width="1.00"/>
<line x1="1683.00" y1="387.50" x2="1674.70" y2="387.50" stroke="#000000" stroke-width="1.00"/>
<text transform="translate(1174.11 391.87) scale(1.1200 1)" x="2.34 12.75 21.69 31.16" y="0" font-family='"Liberation Sans", sans-serif' font-size="17.94" fill="#000000">−100</text>
<line x1="1229.00" y1="311.50" x2="1237.30" y2="311.50" stroke="#000000" stroke-width="1.00"/>
<line x1="1683.00" y1="311.50" x2="1674.70" y2="311.50" stroke="#000000" stroke-width="1.00"/>
<text transform="translate(1209.29 316.20) scale(1.0632 1)" x="0.00" y="0" font-family='"Liberation Sans", sans-serif' font-size="17.94" fill="#000000">0</text>
<line x1="1229.00" y1="235.50" x2="1237.30" y2="235.50" stroke="#000000" stroke-width="1.00"/>
<line x1="1683.00" y1="235.50" x2="1674.70" y2="235.50" stroke="#000000" stroke-width="1.00"/>
<text transform="translate(1188.08 240.53) scale(1.0632 1)" x="0.00 9.98 19.95" y="0" font-family='"Liberation Sans", sans-serif' font-size="17.94" fill="#000000">100</text>
<line x1="1229.00" y1="160.50" x2="1237.30" y2="160.50" stroke="#000000" stroke-width="1.00"/>
<line x1="1683.00" y1="160.50" x2="1674.70" y2="160.50" stroke="#000000" stroke-width="1.00"/>
<text transform="translate(1188.08 164.87) scale(1.0632 1)" x="0.00 9.98 19.95" y="0" font-family='"Liberation Sans", sans-serif' font-size="17.94" fill="#000000">200</text>
<line x1="1229.00" y1="84.50" x2="1237.30" y2="84.50" stroke="#000000" stroke-width="1.00"/>
<line x1="1683.00" y1="84.50" x2="1674.70" y2="84.50" stroke="#000000" stroke-width="1.00"/>
<text transform="translate(1188.08 89.20) scale(1.0632 1)" x="0.00 9.98 19.95" y="0" font-family='"Liberation Sans", sans-serif' font-size="17.94" fill="#000000">300</text>
<clipPath id="c3"><rect x="1229" y="84" width="454" height="454"/></clipPath><g clip-path="url(#c3)">
<polyline fill="none" stroke="#0000ff" stroke-width="1.95" stroke-linejoin="round" points="1309.3,315.3 1321.6,314.7 1305.1,325.3 1306.2,331.5 1308.2,336.9 1313.0,337.2 1317.6,339.8 1329.5,331.8 1334.7,325.6 1331.8,321.0 1318.7,330.1 1317.0,324.4 1322.7,322.7 1325.5,326.0 1313.5,320.5 1311.0,328.0 1320.5,319.0 1327.0,320.5 1315.5,326.5 1323.5,329.5 1309.3,315.3 1322.7,322.7 1313.0,337.2 1331.8,321.0 1306.2,331.5 1317.0,324.4 1329.5,331.8 1313.5,320.5 1334.7,325.6"/>
<circle cx="1309.3" cy="315.3" r="3.40" fill="#0000ff"/>
<circle cx="1321.6" cy="314.7" r="3.40" fill="#0000ff"/>
<circle cx="1305.1" cy="325.3" r="3.40" fill="#0000ff"/>
<circle cx="1306.2" cy="331.5" r="3.40" fill="#0000ff"/>
<circle cx="1308.2" cy="336.9" r="3.40" fill="#0000ff"/>
<circle cx="1313.0" cy="337.2" r="3.40" fill="#0000ff"/>
<circle cx="1317.6" cy="339.8" r="3.40" fill="#0000ff"/>
<circle cx="1329.5" cy="331.8" r="3.40" fill="#0000ff"/>
<circle cx="1334.7" cy="325.6" r="3.40" fill="#0000ff"/>
<circle cx="1331.8" cy="321.0" r="3.40" fill="#0000ff"/>
<circle cx="1318.7" cy="330.1" r="3.40" fill="#0000ff"/>
<circle cx="1317.0" cy="324.4" r="3.40" fill="#0000ff"/>
<circle cx="1322.7" cy="322.7" r="3.40" fill="#0000ff"/>
<circle cx="1325.5" cy="326.0" r="3.40" fill="#0000ff"/>
<circle cx="1313.5" cy="320.5" r="3.40" fill="#0000ff"/>
<circle cx="1311.0" cy="328.0" r="3.40" fill="#0000ff"/>
<circle cx="1320.5" cy="319.0" r="3.40" fill="#0000ff"/>
<circle cx="1327.0" cy="320.5" r="3.40" fill="#0000ff"/>
<circle cx="1315.5" cy="326.5" r="3.40" fill="#0000ff"/>
<circle cx="1323.5" cy="329.5" r="3.40" fill="#0000ff"/>
<polyline fill="none" stroke="#ff0000" stroke-width="1.95" stroke-linejoin="round" points="1667.5,281.3 1669.8,286.5 1662.3,292.5 1667.0,295.5 1669.5,300.0 1666.0,303.5 1674.5,304.5 1665.5,308.0 1670.0,309.0 1668.0,313.0 1666.5,317.5 1672.5,315.5 1669.0,305.5 1666.5,299.0 1670.5,296.0 1667.5,281.3 1669.5,300.0 1662.3,292.5 1668.0,313.0 1674.5,304.5 1667.0,295.5 1672.5,315.5"/>
<circle cx="1667.5" cy="281.3" r="3.40" fill="#ff0000"/>
<circle cx="1669.8" cy="286.5" r="3.40" fill="#ff0000"/>
<circle cx="1662.3" cy="292.5" r="3.40" fill="#ff0000"/>
<circle cx="1667.0" cy="295.5" r="3.40" fill="#ff0000"/>
<circle cx="1669.5" cy="300.0" r="3.40" fill="#ff0000"/>
<circle cx="1666.0" cy="303.5" r="3.40" fill="#ff0000"/>
<circle cx="1674.5" cy="304.5" r="3.40" fill="#ff0000"/>
<circle cx="1665.5" cy="308.0" r="3.40" fill="#ff0000"/>
<circle cx="1670.0" cy="309.0" r="3.40" fill="#ff0000"/>
<circle cx="1668.0" cy="313.0" r="3.40" fill="#ff0000"/>
<circle cx="1666.5" cy="317.5" r="3.40" fill="#ff0000"/>
<circle cx="1672.5" cy="315.5" r="3.40" fill="#ff0000"/>
<circle cx="1669.0" cy="305.5" r="3.40" fill="#ff0000"/>
<circle cx="1666.5" cy="299.0" r="3.40" fill="#ff0000"/>
<circle cx="1670.5" cy="296.0" r="3.40" fill="#ff0000"/>
</g>
<rect x="1563.0" y="91.3" width="113.0" height="59.2" fill="#fff" stroke="#000" stroke-width="2"/>
<line x1="1573.30" y1="107.30" x2="1593.50" y2="107.30" stroke="#0000ff" stroke-width="1.95"/>
<circle cx="1573.3" cy="107.3" r="3.50" fill="#0000ff"/>
<circle cx="1593.5" cy="107.3" r="3.50" fill="#0000ff"/>
<line x1="1573.30" y1="133.20" x2="1593.50" y2="133.20" stroke="#ff0000" stroke-width="1.95"/>
<circle cx="1573.3" cy="133.2" r="3.50" fill="#ff0000"/>
<circle cx="1593.5" cy="133.2" r="3.50" fill="#ff0000"/>
<text transform="translate(1610.50 110.70) scale(1.0000 1)" x="-0.54 10.15" y="0" font-family='"Liberation Sans", sans-serif' font-size="16.62" fill="#000000">B/</text>
<path d="M1624.9 107.5l1.5 -1.0l3.0 6.5l6.4 -13.8h28.4" fill="none" stroke="#000" stroke-width="0.9"/>
<text x="1639.60" y="111.20" font-family='"Liberation Serif", serif' font-size="13.20" font-style="italic" fill="#000000" textLength="6.40" lengthAdjust="spacingAndGlyphs">μ</text>
<text x="1646.50" y="113.60" font-family='"Liberation Serif", serif' font-size="9.40" fill="#000000" textLength="4.60" lengthAdjust="spacingAndGlyphs">0</text>
<text x="1652.70" y="111.20" font-family='"Liberation Serif", serif' font-size="13.20" font-style="italic" fill="#000000" textLength="6.60" lengthAdjust="spacingAndGlyphs">ρ</text>
<text transform="translate(1610.50 137.60) scale(1.0000 1)" x="-0.56" y="0" font-family='"Liberation Sans", sans-serif' font-size="16.62" fill="#000000">V</text>
<text x="1620.40" y="139.60" font-family='"Liberation Serif", serif' font-size="9.80" font-style="italic" fill="#000000" textLength="48.00" lengthAdjust="spacingAndGlyphs">remaining</text>
<text x="1262.60" y="516.00" font-family='"Liberation Serif", serif' font-size="18.75" font-style="italic" fill="#000000" textLength="9.00" lengthAdjust="spacingAndGlyphs">λ</text>
<text x="1272.60" y="519.90" font-family='"Liberation Serif", serif' font-size="14.50" fill="#000000" textLength="5.20" lengthAdjust="spacingAndGlyphs">1</text>
<text x="1280.20" y="520.70" font-family='"Liberation Serif", serif' font-size="27.00" fill="#000000">/</text>
<text x="1290.80" y="516.00" font-family='"Liberation Serif", serif' font-size="18.75" font-style="italic" fill="#000000" textLength="9.00" lengthAdjust="spacingAndGlyphs">λ</text>
<text x="1300.60" y="519.90" font-family='"Liberation Serif", serif' font-size="14.50" fill="#000000" textLength="5.60" lengthAdjust="spacingAndGlyphs">3</text>
<text x="1311.60" y="515.50" font-family='"Liberation Serif", serif' font-size="19.50" fill="#000000" textLength="13.80" lengthAdjust="spacingAndGlyphs">≈</text>
<text transform="translate(1332.60 516.00) scale(1.0895 1)" x="-0.00 10.95 21.90 32.85 38.32 49.27" y="0" font-family='"Liberation Sans", sans-serif' font-size="19.69" fill="#000000">108.08</text>
<rect x="1229" y="84" width="454" height="454" fill="none" stroke="#000" stroke-width="2"/>
<text transform="translate(1275.66 74.00) scale(1.0213 1)" x="-0.46 16.95 30.98 45.02 59.06 73.59 82.36 96.81 118.35 126.32 142.55 155.35 167.31 183.54 197.73 204.16 223.63 239.03 254.46 270.58 278.12 286.03 294.80 309.25 330.56 344.64" y="0" font-family='"Liberation Sans", sans-serif' font-size="24.72" fill="#000000">Hodogram(V3_V1 MVAB frame)</text>
<text transform="translate(1418.39 588.90) scale(1.0483 1)" x="-0.54 10.95 21.11 27.32 36.68 52.09 56.92 65.66" y="0" font-family='"Liberation Sans", sans-serif' font-size="17.94" fill="#000000">V3(km/s)</text>
<text transform="rotate(-90 1158.70 311.00) translate(1121.09 311.00) scale(1.0483 1)" x="-0.54 10.95 21.11 27.32 36.68 52.09 56.92 65.66" y="0" font-family='"Liberation Sans", sans-serif' font-size="17.94" fill="#000000">V1(km/s)</text>
<line x1="198.50" y1="1116.00" x2="198.50" y2="1107.70" stroke="#000000" stroke-width="1.00"/>
<line x1="198.50" y1="662.00" x2="198.50" y2="670.30" stroke="#000000" stroke-width="1.00"/>
<text transform="translate(175.35 1138.00) scale(1.1200 1)" x="2.34 12.75 21.69 31.16" y="0" font-family='"Liberation Sans", sans-serif' font-size="17.94" fill="#000000">−100</text>
<line x1="296.50" y1="1116.00" x2="296.50" y2="1107.70" stroke="#000000" stroke-width="1.00"/>
<line x1="296.50" y1="662.00" x2="296.50" y2="670.30" stroke="#000000" stroke-width="1.00"/>
<text transform="translate(291.43 1138.00) scale(1.0632 1)" x="0.00" y="0" font-family='"Liberation Sans", sans-serif' font-size="17.94" fill="#000000">0</text>
<line x1="395.50" y1="1116.00" x2="395.50" y2="1107.70" stroke="#000000" stroke-width="1.00"/>
<line x1="395.50" y1="662.00" x2="395.50" y2="670.30" stroke="#000000" stroke-width="1.00"/>
<text transform="translate(379.30 1138.00) scale(1.0632 1)" x="0.00 9.98 19.95" y="0" font-family='"Liberation Sans", sans-serif' font-size="17.94" fill="#000000">100</text>
<line x1="493.50" y1="1116.00" x2="493.50" y2="1107.70" stroke="#000000" stroke-width="1.00"/>
<line x1="493.50" y1="662.00" x2="493.50" y2="670.30" stroke="#000000" stroke-width="1.00"/>
<text transform="translate(477.78 1138.00) scale(1.0632 1)" x="0.00 9.98 19.95" y="0" font-family='"Liberation Sans", sans-serif' font-size="17.94" fill="#000000">200</text>
<line x1="117.00" y1="1034.50" x2="125.30" y2="1034.50" stroke="#000000" stroke-width="1.00"/>
<line x1="571.00" y1="1034.50" x2="562.70" y2="1034.50" stroke="#000000" stroke-width="1.00"/>
<text transform="translate(62.11 1039.95) scale(1.1200 1)" x="2.34 12.75 21.69 31.16" y="0" font-family='"Liberation Sans", sans-serif' font-size="17.94" fill="#000000">−100</text>
<line x1="117.00" y1="936.50" x2="125.30" y2="936.50" stroke="#000000" stroke-width="1.00"/>
<line x1="571.00" y1="936.50" x2="562.70" y2="936.50" stroke="#000000" stroke-width="1.00"/>
<text transform="translate(97.29 941.47) scale(1.0632 1)" x="0.00" y="0" font-family='"Liberation Sans", sans-serif' font-size="17.94" fill="#000000">0</text>
<line x1="117.00" y1="837.50" x2="125.30" y2="837.50" stroke="#000000" stroke-width="1.00"/>
<line x1="571.00" y1="837.50" x2="562.70" y2="837.50" stroke="#000000" stroke-width="1.00"/>
<text transform="translate(76.08 842.99) scale(1.0632 1)" x="0.00 9.98 19.95" y="0" font-family='"Liberation Sans", sans-serif' font-size="17.94" fill="#000000">100</text>
<line x1="117.00" y1="739.50" x2="125.30" y2="739.50" stroke="#000000" stroke-width="1.00"/>
<line x1="571.00" y1="739.50" x2="562.70" y2="739.50" stroke="#000000" stroke-width="1.00"/>
<text transform="translate(76.08 744.51) scale(1.0632 1)" x="0.00 9.98 19.95" y="0" font-family='"Liberation Sans", sans-serif' font-size="17.94" fill="#000000">200</text>
<clipPath id="c4"><rect x="117" y="662" width="454" height="454"/></clipPath><g clip-path="url(#c4)">
<circle cx="191.3" cy="850.3" r="5.40" fill="#ff0000"/>
<circle cx="183.5" cy="865.6" r="5.40" fill="#ff0000"/>
<circle cx="180.6" cy="869.8" r="5.40" fill="#ff0000"/>
<circle cx="193.4" cy="863.4" r="5.40" fill="#ff0000"/>
<circle cx="199.1" cy="867.0" r="5.40" fill="#ff0000"/>
<circle cx="202.7" cy="869.1" r="5.40" fill="#ff0000"/>
<circle cx="190.6" cy="874.1" r="5.40" fill="#ff0000"/>
<circle cx="195.6" cy="872.7" r="5.40" fill="#ff0000"/>
<circle cx="192.0" cy="878.4" r="5.40" fill="#ff0000"/>
<circle cx="198.4" cy="876.9" r="5.40" fill="#ff0000"/>
<circle cx="205.5" cy="879.8" r="5.40" fill="#ff0000"/>
<circle cx="203.4" cy="889.8" r="5.40" fill="#ff0000"/>
<circle cx="187.5" cy="869.0" r="5.40" fill="#ff0000"/>
<circle cx="196.0" cy="868.0" r="5.40" fill="#ff0000"/>
<circle cx="201.0" cy="874.5" r="5.40" fill="#ff0000"/>
<circle cx="281.7" cy="918.9" r="5.40" fill="#008000"/>
<circle cx="294.5" cy="916.1" r="5.40" fill="#008000"/>
<circle cx="311.6" cy="918.2" r="5.40" fill="#008000"/>
<circle cx="304.4" cy="923.2" r="5.40" fill="#008000"/>
<circle cx="300.9" cy="929.6" r="5.40" fill="#008000"/>
<circle cx="290.9" cy="923.9" r="5.40" fill="#008000"/>
<circle cx="285.9" cy="929.6" r="5.40" fill="#008000"/>
<circle cx="286.7" cy="933.9" r="5.40" fill="#008000"/>
<circle cx="293.8" cy="935.3" r="5.40" fill="#008000"/>
<circle cx="288.8" cy="942.4" r="5.40" fill="#008000"/>
<circle cx="298.0" cy="941.0" r="5.40" fill="#008000"/>
<circle cx="311.6" cy="940.3" r="5.40" fill="#008000"/>
<circle cx="316.5" cy="950.2" r="5.40" fill="#008000"/>
<circle cx="296.6" cy="950.2" r="5.40" fill="#008000"/>
<circle cx="303.0" cy="948.1" r="5.40" fill="#008000"/>
<circle cx="304.4" cy="958.8" r="5.40" fill="#008000"/>
<circle cx="293.5" cy="964.5" r="5.40" fill="#008000"/>
<circle cx="299.5" cy="956.7" r="5.40" fill="#008000"/>
<circle cx="296.5" cy="927.0" r="5.40" fill="#008000"/>
<circle cx="292.0" cy="930.0" r="5.40" fill="#008000"/>
<circle cx="295.5" cy="944.5" r="5.40" fill="#008000"/>
<circle cx="550.5" cy="1086.4" r="5.40" fill="#0000ff"/>
<circle cx="540.4" cy="1101.2" r="5.40" fill="#0000ff"/>
<circle cx="542.0" cy="1107.7" r="5.40" fill="#0000ff"/>
<circle cx="551.2" cy="1099.8" r="5.40" fill="#0000ff"/>
<circle cx="554.1" cy="1104.1" r="5.40" fill="#0000ff"/>
<circle cx="549.8" cy="1111.2" r="5.40" fill="#0000ff"/>
<circle cx="537.7" cy="1115.5" r="5.40" fill="#0000ff"/>
<circle cx="562.6" cy="1098.4" r="5.40" fill="#0000ff"/>
<circle cx="568.3" cy="1096.3" r="5.40" fill="#0000ff"/>
<circle cx="571.2" cy="1098.4" r="5.40" fill="#0000ff"/>
<circle cx="559.1" cy="1104.8" r="5.40" fill="#0000ff"/>
<circle cx="546.0" cy="1104.0" r="5.40" fill="#0000ff"/>
<circle cx="565.5" cy="1101.0" r="5.40" fill="#0000ff"/>
<circle cx="556.5" cy="1100.0" r="5.40" fill="#0000ff"/>
<circle cx="574.0" cy="1095.0" r="5.40" fill="#0000ff"/>
<circle cx="570.0" cy="1102.5" r="5.40" fill="#0000ff"/>
<circle cx="545.0" cy="1112.0" r="5.40" fill="#0000ff"/>
<line x1="117.00" y1="821.60" x2="571.00" y2="1109.75" stroke="#000000" stroke-width="2.00" stroke-dasharray="12.5,12.5"/>
</g>
<rect x="117" y="662" width="454" height="454" fill="none" stroke="#000" stroke-width="2"/>
<text transform="translate(283.42 652.00) scale(1.0253 1)" x="-0.58 22.18 36.30 42.19 56.20 69.48 83.91 97.35 110.34" y="0" font-family='"Liberation Sans", sans-serif' font-size="24.72" fill="#000000">WalenTest</text>
<rect x="125.0" y="669.0" width="145.0" height="71.5" fill="#fff" stroke="#000" stroke-width="2"/>
<text transform="translate(128.30 686.30) scale(1.1008 1)" x="-0.48 9.05 13.34 23.96 34.60 45.29 52.12 64.98 70.21 76.51 87.37 92.76 103.60 114.43" y="0" font-family='"Liberation Sans", sans-serif' font-size="19.69" fill="#000000">slope = -0.634</text>
<text x="129.00" y="708.40" font-family='"Liberation Serif", serif' font-size="18.75" font-style="italic" fill="#000000" textLength="7.50" lengthAdjust="spacingAndGlyphs">r</text>
<text transform="translate(144.50 708.40) scale(1.1200 1)" x="1.26 13.95 19.09 25.24 35.97 41.21 51.86 62.52" y="0" font-family='"Liberation Sans", sans-serif' font-size="19.69" fill="#000000">= -0.995</text>
<text x="129.50" y="730.20" font-family='"Liberation Serif", serif' font-size="18.75" font-style="italic" fill="#000000" textLength="18.00" lengthAdjust="spacingAndGlyphs">M</text>
<text x="147.60" y="733.60" font-family='"Liberation Serif", serif' font-size="13.10" font-style="italic" fill="#000000" textLength="8.60" lengthAdjust="spacingAndGlyphs">A</text>
<text transform="translate(165.20 730.20) scale(1.1200 1)" x="1.26 13.95 19.20 29.93 35.17 45.82 56.47" y="0" font-family='"Liberation Sans", sans-serif' font-size="19.69" fill="#000000">= 0.637</text>
<text transform="translate(307.40 1167.30) scale(1.0000 1)" x="-0.28" y="0" font-family='"Liberation Sans", sans-serif' font-size="17.94" fill="#000000">V</text>
<text x="318.60" y="1170.20" font-family='"Liberation Serif", serif' font-size="11.70" font-style="italic" fill="#000000" textLength="8.00" lengthAdjust="spacingAndGlyphs">A</text>
<text transform="translate(328.40 1167.30) scale(1.0681 1)" x="0.06 6.12 15.26 30.47 35.17 43.78" y="0" font-family='"Liberation Sans", sans-serif' font-size="17.94" fill="#000000">(km/s)</text>
<text transform="rotate(-90 44.90 950.60) translate(44.90 950.60) scale(1.0000 1)" x="-0.28" y="0" font-family='"Liberation Sans", sans-serif' font-size="17.94" fill="#000000">V</text>
<text x="47.00" y="937.70" font-family='"Liberation Serif", serif' font-size="11.20" font-style="italic" fill="#000000" textLength="53.80" lengthAdjust="spacingAndGlyphs" transform="rotate(-90 47.00 937.70)">remaining</text>
<text transform="rotate(-90 44.90 883.30) translate(44.90 883.30) scale(1.0681 1)" x="0.06 6.12 15.26 30.47 35.17 43.78" y="0" font-family='"Liberation Sans", sans-serif' font-size="17.94" fill="#000000">(km/s)</text>
<line x1="749.50" y1="1116.00" x2="749.50" y2="662.00" stroke="#000000" stroke-width="1.00" stroke-dasharray="2.0833,6.25"/>
<line x1="824.50" y1="1116.00" x2="824.50" y2="662.00" stroke="#000000" stroke-width="1.00" stroke-dasharray="2.0833,6.25"/>
<line x1="900.50" y1="1116.00" x2="900.50" y2="662.00" stroke="#000000" stroke-width="1.00" stroke-dasharray="2.0833,6.25"/>
<line x1="976.50" y1="1116.00" x2="976.50" y2="662.00" stroke="#000000" stroke-width="1.00" stroke-dasharray="2.0833,6.25"/>
<line x1="1051.50" y1="1116.00" x2="1051.50" y2="662.00" stroke="#000000" stroke-width="1.00" stroke-dasharray="2.0833,6.25"/>
<line x1="673.00" y1="1040.50" x2="1127.00" y2="1040.50" stroke="#000000" stroke-width="1.00" stroke-dasharray="2.0833,6.25"/>
<line x1="673.00" y1="965.50" x2="1127.00" y2="965.50" stroke="#000000" stroke-width="1.00" stroke-dasharray="2.0833,6.25"/>
<line x1="673.00" y1="889.50" x2="1127.00" y2="889.50" stroke="#000000" stroke-width="1.00" stroke-dasharray="2.0833,6.25"/>
<line x1="673.00" y1="813.50" x2="1127.00" y2="813.50" stroke="#000000" stroke-width="1.00" stroke-dasharray="2.0833,6.25"/>
<line x1="673.00" y1="738.50" x2="1127.00" y2="738.50" stroke="#000000" stroke-width="1.00" stroke-dasharray="2.0833,6.25"/>
<line x1="673.50" y1="1116.00" x2="673.50" y2="1107.70" stroke="#000000" stroke-width="1.00"/>
<line x1="673.50" y1="662.00" x2="673.50" y2="670.30" stroke="#000000" stroke-width="1.00"/>
<text transform="translate(662.39 1138.00) scale(1.0632 1)" x="0.00 9.98" y="0" font-family='"Liberation Sans", sans-serif' font-size="17.94" fill="#000000">10</text>
<line x1="749.50" y1="1116.00" x2="749.50" y2="1107.70" stroke="#000000" stroke-width="1.00"/>
<line x1="749.50" y1="662.00" x2="749.50" y2="670.30" stroke="#000000" stroke-width="1.00"/>
<text transform="translate(738.06 1138.00) scale(1.0632 1)" x="0.00 9.98" y="0" font-family='"Liberation Sans", sans-serif' font-size="17.94" fill="#000000">20</text>
<line x1="824.50" y1="1116.00" x2="824.50" y2="1107.70" stroke="#000000" stroke-width="1.00"/>
<line x1="824.50" y1="662.00" x2="824.50" y2="670.30" stroke="#000000" stroke-width="1.00"/>
<text transform="translate(813.73 1138.00) scale(1.0632 1)" x="0.00 9.98" y="0" font-family='"Liberation Sans", sans-serif' font-size="17.94" fill="#000000">30</text>
<line x1="900.50" y1="1116.00" x2="900.50" y2="1107.70" stroke="#000000" stroke-width="1.00"/>
<line x1="900.50" y1="662.00" x2="900.50" y2="670.30" stroke="#000000" stroke-width="1.00"/>
<text transform="translate(889.39 1138.00) scale(1.0632 1)" x="0.00 9.98" y="0" font-family='"Liberation Sans", sans-serif' font-size="17.94" fill="#000000">40</text>
<line x1="976.50" y1="1116.00" x2="976.50" y2="1107.70" stroke="#000000" stroke-width="1.00"/>
<line x1="976.50" y1="662.00" x2="976.50" y2="670.30" stroke="#000000" stroke-width="1.00"/>
<text transform="translate(965.06 1138.00) scale(1.0632 1)" x="0.00 9.98" y="0" font-family='"Liberation Sans", sans-serif' font-size="17.94" fill="#000000">50</text>
<line x1="1051.50" y1="1116.00" x2="1051.50" y2="1107.70" stroke="#000000" stroke-width="1.00"/>
<line x1="1051.50" y1="662.00" x2="1051.50" y2="670.30" stroke="#000000" stroke-width="1.00"/>
<text transform="translate(1040.73 1138.00) scale(1.0632 1)" x="0.00 9.98" y="0" font-family='"Liberation Sans", sans-serif' font-size="17.94" fill="#000000">60</text>
<line x1="1127.50" y1="1116.00" x2="1127.50" y2="1107.70" stroke="#000000" stroke-width="1.00"/>
<line x1="1127.50" y1="662.00" x2="1127.50" y2="670.30" stroke="#000000" stroke-width="1.00"/>
<text transform="translate(1116.39 1138.00) scale(1.0632 1)" x="0.00 9.98" y="0" font-family='"Liberation Sans", sans-serif' font-size="17.94" fill="#000000">70</text>
<line x1="673.00" y1="1116.50" x2="681.30" y2="1116.50" stroke="#000000" stroke-width="1.00"/>
<line x1="1127.00" y1="1116.50" x2="1118.70" y2="1116.50" stroke="#000000" stroke-width="1.00"/>
<text transform="translate(628.72 1121.20) scale(1.1200 1)" x="2.34 12.75 21.69" y="0" font-family='"Liberation Sans", sans-serif' font-size="17.94" fill="#000000">−20</text>
<line x1="673.00" y1="1040.50" x2="681.30" y2="1040.50" stroke="#000000" stroke-width="1.00"/>
<line x1="1127.00" y1="1040.50" x2="1118.70" y2="1040.50" stroke="#000000" stroke-width="1.00"/>
<text transform="translate(628.72 1045.53) scale(1.1200 1)" x="2.34 12.75 21.69" y="0" font-family='"Liberation Sans", sans-serif' font-size="17.94" fill="#000000">−10</text>
<line x1="673.00" y1="965.50" x2="681.30" y2="965.50" stroke="#000000" stroke-width="1.00"/>
<line x1="1127.00" y1="965.50" x2="1118.70" y2="965.50" stroke="#000000" stroke-width="1.00"/>
<text transform="translate(653.29 969.87) scale(1.0632 1)" x="0.00" y="0" font-family='"Liberation Sans", sans-serif' font-size="17.94" fill="#000000">0</text>
<line x1="673.00" y1="889.50" x2="681.30" y2="889.50" stroke="#000000" stroke-width="1.00"/>
<line x1="1127.00" y1="889.50" x2="1118.70" y2="889.50" stroke="#000000" stroke-width="1.00"/>
<text transform="translate(642.69 894.20) scale(1.0632 1)" x="0.00 9.98" y="0" font-family='"Liberation Sans", sans-serif' font-size="17.94" fill="#000000">10</text>
<line x1="673.00" y1="813.50" x2="681.30" y2="813.50" stroke="#000000" stroke-width="1.00"/>
<line x1="1127.00" y1="813.50" x2="1118.70" y2="813.50" stroke="#000000" stroke-width="1.00"/>
<text transform="translate(642.69 818.53) scale(1.0632 1)" x="0.00 9.98" y="0" font-family='"Liberation Sans", sans-serif' font-size="17.94" fill="#000000">20</text>
<line x1="673.00" y1="738.50" x2="681.30" y2="738.50" stroke="#000000" stroke-width="1.00"/>
<line x1="1127.00" y1="738.50" x2="1118.70" y2="738.50" stroke="#000000" stroke-width="1.00"/>
<text transform="translate(642.69 742.87) scale(1.0632 1)" x="0.00 9.98" y="0" font-family='"Liberation Sans", sans-serif' font-size="17.94" fill="#000000">30</text>
<line x1="673.00" y1="662.50" x2="681.30" y2="662.50" stroke="#000000" stroke-width="1.00"/>
<line x1="1127.00" y1="662.50" x2="1118.70" y2="662.50" stroke="#000000" stroke-width="1.00"/>
<text transform="translate(642.69 667.20) scale(1.0632 1)" x="0.00 9.98" y="0" font-family='"Liberation Sans", sans-serif' font-size="17.94" fill="#000000">40</text>
<clipPath id="c5"><rect x="673" y="662" width="454" height="454"/></clipPath><g clip-path="url(#c5)">
<path fill="none" stroke="#0000ff" stroke-width="1.95" stroke-linecap="round" d="M744.6 829.7L884.3 793.6 M744.6 829.7L869.4 1061.4 M884.3 793.6L944.6 944.4 M869.4 1061.4L928.9 982.3 M935.3 694.3L984.5 963.0 M935.3 694.3L929.5 1007.4 M961.4 744.3L932.3 803.1 M932.3 803.1L906.4 876.3 M961.4 744.3L955.5 968.2 M990.3 801.1L987.5 843.4 M973.4 827.4L987.5 843.4 M973.4 827.4L1036.4 1025.2 M1007.4 866.2L1036.4 1025.2 M889.4 885.5L1019.4 974.5 M889.4 885.5L1119.1 893.2 M934.4 857.8L1119.1 893.2 M934.4 857.8L882.4 965.3 M882.4 965.3L940.5 919.0 M906.4 876.3L900.4 1044.6 M902.3 1040.3L931.2 975.3 M984.5 963.0L931.2 975.3 M1010.6 936.1L955.5 968.2 M1010.6 936.1L1019.4 974.5 M924.4 860.4L928.9 982.3 M990.3 801.1L929.5 1007.4 M987.5 843.4L956.6 944.0 M1007.4 866.2L931.2 975.3 M1017.4 870.2L928.9 982.3 M934.4 857.8L956.6 944.0 M934.4 857.8L944.6 944.4 M940.5 919.0L948.5 951.5 M924.4 860.4L934.4 857.8 M1017.4 870.2L948.5 951.5"/>
<circle cx="935.3" cy="694.3" r="3.40" fill="#0000ff"/>
<circle cx="961.4" cy="744.3" r="3.40" fill="#0000ff"/>
<circle cx="884.3" cy="793.6" r="3.40" fill="#0000ff"/>
<circle cx="744.6" cy="829.7" r="3.40" fill="#0000ff"/>
<circle cx="932.3" cy="803.1" r="3.40" fill="#0000ff"/>
<circle cx="990.3" cy="801.1" r="3.40" fill="#0000ff"/>
<circle cx="973.4" cy="827.4" r="3.40" fill="#0000ff"/>
<circle cx="987.5" cy="843.4" r="3.40" fill="#0000ff"/>
<circle cx="924.4" cy="860.4" r="3.40" fill="#0000ff"/>
<circle cx="934.4" cy="857.8" r="3.40" fill="#0000ff"/>
<circle cx="906.4" cy="876.3" r="3.40" fill="#0000ff"/>
<circle cx="889.4" cy="885.5" r="3.40" fill="#0000ff"/>
<circle cx="1007.4" cy="866.2" r="3.40" fill="#0000ff"/>
<circle cx="1017.4" cy="870.2" r="3.40" fill="#0000ff"/>
<circle cx="1119.1" cy="893.2" r="3.40" fill="#0000ff"/>
<circle cx="940.5" cy="919.0" r="3.40" fill="#0000ff"/>
<circle cx="1010.6" cy="936.1" r="3.40" fill="#0000ff"/>
<circle cx="944.6" cy="944.4" r="3.40" fill="#0000ff"/>
<circle cx="948.5" cy="951.5" r="3.40" fill="#0000ff"/>
<circle cx="956.6" cy="944.0" r="3.40" fill="#0000ff"/>
<circle cx="882.4" cy="965.3" r="3.40" fill="#0000ff"/>
<circle cx="984.5" cy="963.0" r="3.40" fill="#0000ff"/>
<circle cx="955.5" cy="968.2" r="3.40" fill="#0000ff"/>
<circle cx="931.2" cy="975.3" r="3.40" fill="#0000ff"/>
<circle cx="928.9" cy="982.3" r="3.40" fill="#0000ff"/>
<circle cx="1019.4" cy="974.5" r="3.40" fill="#0000ff"/>
<circle cx="929.5" cy="1007.4" r="3.40" fill="#0000ff"/>
<circle cx="1036.4" cy="1025.2" r="3.40" fill="#0000ff"/>
<circle cx="902.3" cy="1040.3" r="3.40" fill="#0000ff"/>
<circle cx="900.4" cy="1044.6" r="3.40" fill="#0000ff"/>
<circle cx="869.4" cy="1061.4" r="3.40" fill="#0000ff"/>
</g>
<text x="686.00" y="1094.00" font-family='"Liberation Serif", serif' font-size="18.75" font-style="italic" fill="#000000" textLength="9.00" lengthAdjust="spacingAndGlyphs">λ</text>
<text x="696.00" y="1097.90" font-family='"Liberation Serif", serif' font-size="14.50" fill="#000000" textLength="5.20" lengthAdjust="spacingAndGlyphs">1</text>
<text x="703.60" y="1098.70" font-family='"Liberation Serif", serif' font-size="27.00" fill="#000000">/</text>
<text x="714.20" y="1094.00" font-family='"Liberation Serif", serif' font-size="18.75" font-style="italic" fill="#000000" textLength="9.00" lengthAdjust="spacingAndGlyphs">λ</text>
<text x="724.00" y="1097.90" font-family='"Liberation Serif", serif' font-size="14.50" fill="#000000" textLength="5.60" lengthAdjust="spacingAndGlyphs">2</text>
<text x="735.00" y="1093.50" font-family='"Liberation Serif", serif' font-size="19.50" fill="#000000" textLength="13.80" lengthAdjust="spacingAndGlyphs">≈</text>
<text transform="translate(756.00 1094.00) scale(1.0895 1)" x="-0.00 10.95 16.42 27.37" y="0" font-family='"Liberation Sans", sans-serif' font-size="19.69" fill="#000000">1.94</text>
<rect x="673" y="662" width="454" height="454" fill="none" stroke="#000" stroke-width="2"/>
<text transform="translate(679.80 650.60) scale(1.0062 1)" x="-0.33 17.31 31.55 45.80 60.05 74.76 83.70 98.42 120.05 127.46 135.60 152.06 165.05 177.21 193.67 208.02 214.65 234.38 250.02 265.65" y="0" font-family='"Liberation Sans", sans-serif' font-size="24.72" fill="#000000">Hodogram (V2_V1 MVAV</text>
<text x="961.60" y="652.80" font-family='"Liberation Serif", serif' font-size="16.10" font-style="italic" fill="#000000" textLength="75.00" lengthAdjust="spacingAndGlyphs">remaining</text>
<text transform="translate(1037.20 650.60) scale(1.0790 1)" x="-0.05 7.09 14.55 22.70 36.19 56.55 70.03" y="0" font-family='"Liberation Sans", sans-serif' font-size="24.72" fill="#000000"> frame)</text>
<text transform="translate(862.39 1166.90) scale(1.0483 1)" x="-0.54 10.95 21.11 27.32 36.68 52.09 56.92 65.66" y="0" font-family='"Liberation Sans", sans-serif' font-size="17.94" fill="#000000">V2(km/s)</text>
<text transform="rotate(-90 613.50 889.00) translate(575.89 889.00) scale(1.0483 1)" x="-0.54 10.95 21.11 27.32 36.68 52.09 56.92 65.66" y="0" font-family='"Liberation Sans", sans-serif' font-size="17.94" fill="#000000">V1(km/s)</text>
<line x1="1252.50" y1="1116.00" x2="1252.50" y2="662.00" stroke="#000000" stroke-width="1.00" stroke-dasharray="2.0833,6.25"/>
<line x1="1328.50" y1="1116.00" x2="1328.50" y2="662.00" stroke="#000000" stroke-width="1.00" stroke-dasharray="2.0833,6.25"/>
<line x1="1404.50" y1="1116.00" x2="1404.50" y2="662.00" stroke="#000000" stroke-width="1.00" stroke-dasharray="2.0833,6.25"/>
<line x1="1479.50" y1="1116.00" x2="1479.50" y2="662.00" stroke="#000000" stroke-width="1.00" stroke-dasharray="2.0833,6.25"/>
<line x1="1555.50" y1="1116.00" x2="1555.50" y2="662.00" stroke="#000000" stroke-width="1.00" stroke-dasharray="2.0833,6.25"/>
<line x1="1631.50" y1="1116.00" x2="1631.50" y2="662.00" stroke="#000000" stroke-width="1.00" stroke-dasharray="2.0833,6.25"/>
<line x1="1229.00" y1="1040.50" x2="1683.00" y2="1040.50" stroke="#000000" stroke-width="1.00" stroke-dasharray="2.0833,6.25"/>
<line x1="1229.00" y1="965.50" x2="1683.00" y2="965.50" stroke="#000000" stroke-width="1.00" stroke-dasharray="2.0833,6.25"/>
<line x1="1229.00" y1="889.50" x2="1683.00" y2="889.50" stroke="#000000" stroke-width="1.00" stroke-dasharray="2.0833,6.25"/>
<line x1="1229.00" y1="813.50" x2="1683.00" y2="813.50" stroke="#000000" stroke-width="1.00" stroke-dasharray="2.0833,6.25"/>
<line x1="1229.00" y1="738.50" x2="1683.00" y2="738.50" stroke="#000000" stroke-width="1.00" stroke-dasharray="2.0833,6.25"/>
<line x1="1252.50" y1="1116.00" x2="1252.50" y2="1107.70" stroke="#000000" stroke-width="1.00"/>
<line x1="1252.50" y1="662.00" x2="1252.50" y2="670.30" stroke="#000000" stroke-width="1.00"/>
<text transform="translate(1229.56 1138.00) scale(1.1200 1)" x="2.34 12.75 21.69 31.16" y="0" font-family='"Liberation Sans", sans-serif' font-size="17.94" fill="#000000">−200</text>
<line x1="1328.50" y1="1116.00" x2="1328.50" y2="1107.70" stroke="#000000" stroke-width="1.00"/>
<line x1="1328.50" y1="662.00" x2="1328.50" y2="670.30" stroke="#000000" stroke-width="1.00"/>
<text transform="translate(1305.23 1138.00) scale(1.1200 1)" x="2.34 12.75 21.69 31.16" y="0" font-family='"Liberation Sans", sans-serif' font-size="17.94" fill="#000000">−190</text>
<line x1="1404.50" y1="1116.00" x2="1404.50" y2="1107.70" stroke="#000000" stroke-width="1.00"/>
<line x1="1404.50" y1="662.00" x2="1404.50" y2="670.30" stroke="#000000" stroke-width="1.00"/>
<text transform="translate(1380.90 1138.00) scale(1.1200 1)" x="2.34 12.75 21.69 31.16" y="0" font-family='"Liberation Sans", sans-serif' font-size="17.94" fill="#000000">−180</text>
<line x1="1479.50" y1="1116.00" x2="1479.50" y2="1107.70" stroke="#000000" stroke-width="1.00"/>
<line x1="1479.50" y1="662.00" x2="1479.50" y2="670.30" stroke="#000000" stroke-width="1.00"/>
<text transform="translate(1456.56 1138.00) scale(1.1200 1)" x="2.34 12.75 21.69 31.16" y="0" font-family='"Liberation Sans", sans-serif' font-size="17.94" fill="#000000">−170</text>
<line x1="1555.50" y1="1116.00" x2="1555.50" y2="1107.70" stroke="#000000" stroke-width="1.00"/>
<line x1="1555.50" y1="662.00" x2="1555.50" y2="670.30" stroke="#000000" stroke-width="1.00"/>
<text transform="translate(1532.23 1138.00) scale(1.1200 1)" x="2.34 12.75 21.69 31.16" y="0" font-family='"Liberation Sans", sans-serif' font-size="17.94" fill="#000000">−160</text>
<line x1="1631.50" y1="1116.00" x2="1631.50" y2="1107.70" stroke="#000000" stroke-width="1.00"/>
<line x1="1631.50" y1="662.00" x2="1631.50" y2="670.30" stroke="#000000" stroke-width="1.00"/>
<text transform="translate(1607.90 1138.00) scale(1.1200 1)" x="2.34 12.75 21.69 31.16" y="0" font-family='"Liberation Sans", sans-serif' font-size="17.94" fill="#000000">−150</text>
<line x1="1229.00" y1="1116.50" x2="1237.30" y2="1116.50" stroke="#000000" stroke-width="1.00"/>
<line x1="1683.00" y1="1116.50" x2="1674.70" y2="1116.50" stroke="#000000" stroke-width="1.00"/>
<text transform="translate(1184.72 1121.20) scale(1.1200 1)" x="2.34 12.75 21.69" y="0" font-family='"Liberation Sans", sans-serif' font-size="17.94" fill="#000000">−20</text>
<line x1="1229.00" y1="1040.50" x2="1237.30" y2="1040.50" stroke="#000000" stroke-width="1.00"/>
<line x1="1683.00" y1="1040.50" x2="1674.70" y2="1040.50" stroke="#000000" stroke-width="1.00"/>
<text transform="translate(1184.72 1045.53) scale(1.1200 1)" x="2.34 12.75 21.69" y="0" font-family='"Liberation Sans", sans-serif' font-size="17.94" fill="#000000">−10</text>
<line x1="1229.00" y1="965.50" x2="1237.30" y2="965.50" stroke="#000000" stroke-width="1.00"/>
<line x1="1683.00" y1="965.50" x2="1674.70" y2="965.50" stroke="#000000" stroke-width="1.00"/>
<text transform="translate(1209.29 969.87) scale(1.0632 1)" x="0.00" y="0" font-family='"Liberation Sans", sans-serif' font-size="17.94" fill="#000000">0</text>
<line x1="1229.00" y1="889.50" x2="1237.30" y2="889.50" stroke="#000000" stroke-width="1.00"/>
<line x1="1683.00" y1="889.50" x2="1674.70" y2="889.50" stroke="#000000" stroke-width="1.00"/>
<text transform="translate(1198.69 894.20) scale(1.0632 1)" x="0.00 9.98" y="0" font-family='"Liberation Sans", sans-serif' font-size="17.94" fill="#000000">10</text>
<line x1="1229.00" y1="813.50" x2="1237.30" y2="813.50" stroke="#000000" stroke-width="1.00"/>
<line x1="1683.00" y1="813.50" x2="1674.70" y2="813.50" stroke="#000000" stroke-width="1.00"/>
<text transform="translate(1198.69 818.53) scale(1.0632 1)" x="0.00 9.98" y="0" font-family='"Liberation Sans", sans-serif' font-size="17.94" fill="#000000">20</text>
<line x1="1229.00" y1="738.50" x2="1237.30" y2="738.50" stroke="#000000" stroke-width="1.00"/>
<line x1="1683.00" y1="738.50" x2="1674.70" y2="738.50" stroke="#000000" stroke-width="1.00"/>
<text transform="translate(1198.69 742.87) scale(1.0632 1)" x="0.00 9.98" y="0" font-family='"Liberation Sans", sans-serif' font-size="17.94" fill="#000000">30</text>
<line x1="1229.00" y1="662.50" x2="1237.30" y2="662.50" stroke="#000000" stroke-width="1.00"/>
<line x1="1683.00" y1="662.50" x2="1674.70" y2="662.50" stroke="#000000" stroke-width="1.00"/>
<text transform="translate(1198.69 667.20) scale(1.0632 1)" x="0.00 9.98" y="0" font-family='"Liberation Sans", sans-serif' font-size="17.94" fill="#000000">40</text>
<clipPath id="c6"><rect x="1229" y="662" width="454" height="454"/></clipPath><g clip-path="url(#c6)">
<path fill="none" stroke="#0000ff" stroke-width="1.95" stroke-linecap="round" d="M1452.9 829.7L1430.4 793.6 M1452.9 829.7L1451.3 1061.4 M1430.4 793.6L1433.3 944.4 M1451.3 1061.4L1450.1 982.3 M1446.4 694.3L1439.4 963.0 M1446.4 694.3L1455.5 1007.4 M1435.4 744.3L1458.5 803.1 M1458.5 803.1L1447.0 876.3 M1435.4 744.3L1464.6 968.2 M1481.4 801.1L1460.4 843.4 M1453.4 827.4L1460.4 843.4 M1453.4 827.4L1430.4 1025.2 M1463.8 866.2L1430.4 1025.2 M1443.0 885.5L1465.5 974.5 M1443.0 885.5L1456.0 893.2 M1454.5 857.8L1456.0 893.2 M1454.5 857.8L1465.0 965.3 M1465.0 965.3L1447.0 919.0 M1447.0 876.3L1429.4 1044.6 M1453.7 1040.3L1455.7 975.3 M1439.4 963.0L1455.7 975.3 M1472.7 936.1L1464.6 968.2 M1472.7 936.1L1465.5 974.5 M1426.6 860.4L1450.1 982.3 M1481.4 801.1L1455.5 1007.4 M1460.4 843.4L1440.6 944.0 M1463.8 866.2L1455.7 975.3 M1449.5 870.2L1450.1 982.3 M1454.5 857.8L1440.6 944.0 M1454.5 857.8L1433.3 944.4 M1447.0 919.0L1472.5 951.5 M1426.6 860.4L1454.5 857.8 M1449.5 870.2L1472.5 951.5"/>
<circle cx="1446.4" cy="694.3" r="3.40" fill="#0000ff"/>
<circle cx="1435.4" cy="744.3" r="3.40" fill="#0000ff"/>
<circle cx="1430.4" cy="793.6" r="3.40" fill="#0000ff"/>
<circle cx="1452.9" cy="829.7" r="3.40" fill="#0000ff"/>
<circle cx="1458.5" cy="803.1" r="3.40" fill="#0000ff"/>
<circle cx="1481.4" cy="801.1" r="3.40" fill="#0000ff"/>
<circle cx="1453.4" cy="827.4" r="3.40" fill="#0000ff"/>
<circle cx="1460.4" cy="843.4" r="3.40" fill="#0000ff"/>
<circle cx="1426.6" cy="860.4" r="3.40" fill="#0000ff"/>
<circle cx="1454.5" cy="857.8" r="3.40" fill="#0000ff"/>
<circle cx="1447.0" cy="876.3" r="3.40" fill="#0000ff"/>
<circle cx="1443.0" cy="885.5" r="3.40" fill="#0000ff"/>
<circle cx="1463.8" cy="866.2" r="3.40" fill="#0000ff"/>
<circle cx="1449.5" cy="870.2" r="3.40" fill="#0000ff"/>
<circle cx="1456.0" cy="893.2" r="3.40" fill="#0000ff"/>
<circle cx="1447.0" cy="919.0" r="3.40" fill="#0000ff"/>
<circle cx="1472.7" cy="936.1" r="3.40" fill="#0000ff"/>
<circle cx="1433.3" cy="944.4" r="3.40" fill="#0000ff"/>
<circle cx="1472.5" cy="951.5" r="3.40" fill="#0000ff"/>
<circle cx="1440.6" cy="944.0" r="3.40" fill="#0000ff"/>
<circle cx="1465.0" cy="965.3" r="3.40" fill="#0000ff"/>
<circle cx="1439.4" cy="963.0" r="3.40" fill="#0000ff"/>
<circle cx="1464.6" cy="968.2" r="3.40" fill="#0000ff"/>
<circle cx="1455.7" cy="975.3" r="3.40" fill="#0000ff"/>
<circle cx="1450.1" cy="982.3" r="3.40" fill="#0000ff"/>
<circle cx="1465.5" cy="974.5" r="3.40" fill="#0000ff"/>
<circle cx="1455.5" cy="1007.4" r="3.40" fill="#0000ff"/>
<circle cx="1430.4" cy="1025.2" r="3.40" fill="#0000ff"/>
<circle cx="1453.7" cy="1040.3" r="3.40" fill="#0000ff"/>
<circle cx="1429.4" cy="1044.6" r="3.40" fill="#0000ff"/>
<circle cx="1451.3" cy="1061.4" r="3.40" fill="#0000ff"/>
</g>
<text x="1262.60" y="1094.00" font-family='"Liberation Serif", serif' font-size="18.75" font-style="italic" fill="#000000" textLength="9.00" lengthAdjust="spacingAndGlyphs">λ</text>
<text x="1272.60" y="1097.90" font-family='"Liberation Serif", serif' font-size="14.50" fill="#000000" textLength="5.20" lengthAdjust="spacingAndGlyphs">1</text>
<text x="1280.20" y="1098.70" font-family='"Liberation Serif", serif' font-size="27.00" fill="#000000">/</text>
<text x="1290.80" y="1094.00" font-family='"Liberation Serif", serif' font-size="18.75" font-style="italic" fill="#000000" textLength="9.00" lengthAdjust="spacingAndGlyphs">λ</text>
<text x="1300.60" y="1097.90" font-family='"Liberation Serif", serif' font-size="14.50" fill="#000000" textLength="5.60" lengthAdjust="spacingAndGlyphs">3</text>
<text x="1311.60" y="1093.50" font-family='"Liberation Serif", serif' font-size="19.50" fill="#000000" textLength="13.80" lengthAdjust="spacingAndGlyphs">≈</text>
<text transform="translate(1332.60 1094.00) scale(1.0895 1)" x="-0.00 10.95 21.90 27.37 38.32" y="0" font-family='"Liberation Sans", sans-serif' font-size="19.69" fill="#000000">42.75</text>
<rect x="1229" y="662" width="454" height="454" fill="none" stroke="#000" stroke-width="2"/>
<text transform="translate(1235.80 650.60) scale(1.0062 1)" x="-0.33 17.31 31.55 45.80 60.05 74.76 83.70 98.42 120.05 127.46 135.60 152.06 165.05 177.21 193.67 208.02 214.65 234.38 250.02 265.65" y="0" font-family='"Liberation Sans", sans-serif' font-size="24.72" fill="#000000">Hodogram (V3_V1 MVAV</text>
<text x="1517.60" y="652.80" font-family='"Liberation Serif", serif' font-size="16.10" font-style="italic" fill="#000000" textLength="75.00" lengthAdjust="spacingAndGlyphs">remaining</text>
<text transform="translate(1593.20 650.60) scale(1.0790 1)" x="-0.05 7.09 14.55 22.70 36.19 56.55 70.03" y="0" font-family='"Liberation Sans", sans-serif' font-size="24.72" fill="#000000"> frame)</text>
<text transform="translate(1418.39 1166.90) scale(1.0483 1)" x="-0.54 10.95 21.11 27.32 36.68 52.09 56.92 65.66" y="0" font-family='"Liberation Sans", sans-serif' font-size="17.94" fill="#000000">V3(km/s)</text>
<text transform="rotate(-90 1169.50 889.00) translate(1131.89 889.00) scale(1.0483 1)" x="-0.54 10.95 21.11 27.32 36.68 52.09 56.92 65.66" y="0" font-family='"Liberation Sans", sans-serif' font-size="17.94" fill="#000000">V1(km/s)</text>
<line x1="117.50" y1="1527.00" x2="117.50" y2="1518.70" stroke="#000000" stroke-width="1.00"/>
<line x1="117.50" y1="1305.00" x2="117.50" y2="1313.30" stroke="#000000" stroke-width="1.00"/>
<text transform="translate(52.90 1549.60) scale(1.0712 1)" x="-0.04 9.86 19.93 25.01 34.91 44.83 49.76 59.66 69.73 74.80 84.71 94.77 99.85 109.75" y="0" font-family='"Liberation Sans", sans-serif' font-size="17.94" fill="#000000">09/26 06:56:08</text>
<line x1="378.50" y1="1527.00" x2="378.50" y2="1518.70" stroke="#000000" stroke-width="1.00"/>
<line x1="378.50" y1="1305.00" x2="378.50" y2="1313.30" stroke="#000000" stroke-width="1.00"/>
<text transform="translate(313.90 1549.60) scale(1.0712 1)" x="-0.04 9.86 19.93 25.01 34.91 44.83 49.76 59.66 69.73 74.80 84.71 94.77 99.85 109.75" y="0" font-family='"Liberation Sans", sans-serif' font-size="17.94" fill="#000000">09/26 06:56:13</text>
<line x1="639.50" y1="1527.00" x2="639.50" y2="1518.70" stroke="#000000" stroke-width="1.00"/>
<line x1="639.50" y1="1305.00" x2="639.50" y2="1313.30" stroke="#000000" stroke-width="1.00"/>
<text transform="translate(574.90 1549.60) scale(1.0712 1)" x="-0.04 9.86 19.93 25.01 34.91 44.83 49.76 59.66 69.73 74.80 84.71 94.77 99.85 109.75" y="0" font-family='"Liberation Sans", sans-serif' font-size="17.94" fill="#000000">09/26 06:56:18</text>
<line x1="900.50" y1="1527.00" x2="900.50" y2="1518.70" stroke="#000000" stroke-width="1.00"/>
<line x1="900.50" y1="1305.00" x2="900.50" y2="1313.30" stroke="#000000" stroke-width="1.00"/>
<text transform="translate(835.90 1549.60) scale(1.0712 1)" x="-0.04 9.86 19.93 25.01 34.91 44.83 49.76 59.66 69.73 74.80 84.71 94.77 99.85 109.75" y="0" font-family='"Liberation Sans", sans-serif' font-size="17.94" fill="#000000">09/26 06:56:23</text>
<line x1="1161.50" y1="1527.00" x2="1161.50" y2="1518.70" stroke="#000000" stroke-width="1.00"/>
<line x1="1161.50" y1="1305.00" x2="1161.50" y2="1313.30" stroke="#000000" stroke-width="1.00"/>
<text transform="translate(1096.90 1549.60) scale(1.0712 1)" x="-0.04 9.86 19.93 25.01 34.91 44.83 49.76 59.66 69.73 74.80 84.71 94.77 99.85 109.75" y="0" font-family='"Liberation Sans", sans-serif' font-size="17.94" fill="#000000">09/26 06:56:28</text>
<line x1="1422.50" y1="1527.00" x2="1422.50" y2="1518.70" stroke="#000000" stroke-width="1.00"/>
<line x1="1422.50" y1="1305.00" x2="1422.50" y2="1313.30" stroke="#000000" stroke-width="1.00"/>
<text transform="translate(1357.90 1549.60) scale(1.0712 1)" x="-0.04 9.86 19.93 25.01 34.91 44.83 49.76 59.66 69.73 74.80 84.71 94.77 99.85 109.75" y="0" font-family='"Liberation Sans", sans-serif' font-size="17.94" fill="#000000">09/26 06:56:33</text>
<line x1="1683.50" y1="1527.00" x2="1683.50" y2="1518.70" stroke="#000000" stroke-width="1.00"/>
<line x1="1683.50" y1="1305.00" x2="1683.50" y2="1313.30" stroke="#000000" stroke-width="1.00"/>
<text transform="translate(1618.90 1549.60) scale(1.0712 1)" x="-0.04 9.86 19.93 25.01 34.91 44.83 49.76 59.66 69.73 74.80 84.71 94.77 99.85 109.75" y="0" font-family='"Liberation Sans", sans-serif' font-size="17.94" fill="#000000">09/26 06:56:38</text>
<line x1="117.00" y1="1527.50" x2="125.30" y2="1527.50" stroke="#000000" stroke-width="1.00"/>
<line x1="1683.00" y1="1527.50" x2="1674.70" y2="1527.50" stroke="#000000" stroke-width="1.00"/>
<text transform="translate(62.11 1532.20) scale(1.1200 1)" x="2.34 12.75 21.69 31.16" y="0" font-family='"Liberation Sans", sans-serif' font-size="17.94" fill="#000000">−100</text>
<line x1="117.00" y1="1490.50" x2="125.30" y2="1490.50" stroke="#000000" stroke-width="1.00"/>
<line x1="1683.00" y1="1490.50" x2="1674.70" y2="1490.50" stroke="#000000" stroke-width="1.00"/>
<text transform="translate(72.72 1495.20) scale(1.1200 1)" x="2.34 12.75 21.69" y="0" font-family='"Liberation Sans", sans-serif' font-size="17.94" fill="#000000">−50</text>
<line x1="117.00" y1="1453.50" x2="125.30" y2="1453.50" stroke="#000000" stroke-width="1.00"/>
<line x1="1683.00" y1="1453.50" x2="1674.70" y2="1453.50" stroke="#000000" stroke-width="1.00"/>
<text transform="translate(97.29 1458.20) scale(1.0632 1)" x="0.00" y="0" font-family='"Liberation Sans", sans-serif' font-size="17.94" fill="#000000">0</text>
<line x1="117.00" y1="1416.50" x2="125.30" y2="1416.50" stroke="#000000" stroke-width="1.00"/>
<line x1="1683.00" y1="1416.50" x2="1674.70" y2="1416.50" stroke="#000000" stroke-width="1.00"/>
<text transform="translate(86.69 1421.20) scale(1.0632 1)" x="0.00 9.98" y="0" font-family='"Liberation Sans", sans-serif' font-size="17.94" fill="#000000">50</text>
<line x1="117.00" y1="1379.50" x2="125.30" y2="1379.50" stroke="#000000" stroke-width="1.00"/>
<line x1="1683.00" y1="1379.50" x2="1674.70" y2="1379.50" stroke="#000000" stroke-width="1.00"/>
<text transform="translate(76.08 1384.20) scale(1.0632 1)" x="0.00 9.98 19.95" y="0" font-family='"Liberation Sans", sans-serif' font-size="17.94" fill="#000000">100</text>
<line x1="117.00" y1="1342.50" x2="125.30" y2="1342.50" stroke="#000000" stroke-width="1.00"/>
<line x1="1683.00" y1="1342.50" x2="1674.70" y2="1342.50" stroke="#000000" stroke-width="1.00"/>
<text transform="translate(76.08 1347.20) scale(1.0632 1)" x="0.00 9.98 19.95" y="0" font-family='"Liberation Sans", sans-serif' font-size="17.94" fill="#000000">150</text>
<line x1="117.00" y1="1305.50" x2="125.30" y2="1305.50" stroke="#000000" stroke-width="1.00"/>
<line x1="1683.00" y1="1305.50" x2="1674.70" y2="1305.50" stroke="#000000" stroke-width="1.00"/>
<text transform="translate(76.08 1310.20) scale(1.0632 1)" x="0.00 9.98 19.95" y="0" font-family='"Liberation Sans", sans-serif' font-size="17.94" fill="#000000">200</text>
<clipPath id="c7"><rect x="117" y="1305" width="1566" height="222"/></clipPath><g clip-path="url(#c7)">
<line x1="117.00" y1="1453.50" x2="1683.00" y2="1453.50" stroke="#000000" stroke-width="1.00" stroke-dasharray="12.5,12.5"/>
<polyline fill="none" stroke="#ff0000" stroke-width="2.00" stroke-linejoin="round" points="117.0,1335.0 169.2,1336.7 221.4,1333.3 273.6,1334.6 325.8,1334.2 378.0,1334.6 430.2,1336.3 482.4,1336.7 534.6,1335.9 586.8,1335.4 639.0,1337.2 691.2,1339.3 743.4,1335.4 795.6,1333.3 847.8,1335.9 900.0,1334.6 952.2,1335.4 1004.4,1337.6 1056.6,1335.9 1108.8,1338.9 1161.0,1335.9 1213.2,1338.0 1265.4,1338.0 1317.6,1337.6 1369.8,1334.6 1422.0,1334.6 1474.2,1339.3 1526.4,1333.3 1578.6,1334.2 1630.8,1333.7 1683.0,1332.0"/>
<polyline fill="none" stroke="#008000" stroke-width="2.00" stroke-linejoin="round" points="117.0,1493.5 169.2,1488.8 221.4,1484.1 273.6,1485.8 325.8,1487.5 378.0,1488.8 430.2,1486.6 482.4,1487.9 534.6,1485.8 586.8,1486.2 639.0,1488.3 691.2,1491.7 743.4,1487.5 795.6,1484.9 847.8,1488.3 900.0,1483.2 952.2,1486.6 1004.4,1487.9 1056.6,1487.9 1108.8,1491.7 1161.0,1489.6 1213.2,1488.8 1265.4,1490.9 1317.6,1489.6 1369.8,1482.8 1422.0,1483.2 1474.2,1490.0 1526.4,1482.3 1578.6,1476.8 1630.8,1479.8 1683.0,1479.8"/>
<polyline fill="none" stroke="#0000ff" stroke-width="2.00" stroke-linejoin="round" points="117.0,1515.7 169.2,1521.2 221.4,1519.5 273.6,1518.2 325.8,1518.2 378.0,1516.1 430.2,1521.6 482.4,1521.6 534.6,1520.8 586.8,1521.6 639.0,1522.1 691.2,1522.5 743.4,1521.6 795.6,1518.6 847.8,1520.8 900.0,1521.2 952.2,1521.2 1004.4,1522.5 1056.6,1521.2 1108.8,1523.8 1161.0,1520.8 1213.2,1523.3 1265.4,1523.3 1317.6,1523.8 1369.8,1522.1 1422.0,1521.2 1474.2,1523.8 1526.4,1519.9 1578.6,1523.8 1630.8,1522.1 1683.0,1519.5"/>
</g>
<rect x="1604.5" y="1312.0" width="71.5" height="72.0" fill="#fff" stroke="#000" stroke-width="2"/>
<line x1="1613.20" y1="1325.10" x2="1635.40" y2="1325.10" stroke="#ff0000" stroke-width="2.00"/>
<text transform="translate(1651.00 1330.00) scale(1.0000 1)" x="-0.54 10.23" y="0" font-family='"Liberation Sans", sans-serif' font-size="16.62" fill="#000000">Br</text>
<line x1="1613.20" y1="1347.30" x2="1635.40" y2="1347.30" stroke="#008000" stroke-width="2.00"/>
<text transform="translate(1651.00 1352.20) scale(1.0010 1)" x="-0.55 10.54" y="0" font-family='"Liberation Sans", sans-serif' font-size="16.62" fill="#000000">Bt</text>
<line x1="1613.20" y1="1369.50" x2="1635.40" y2="1369.50" stroke="#0000ff" stroke-width="2.00"/>
<text transform="translate(1651.00 1374.40) scale(1.0000 1)" x="-0.54 10.00" y="0" font-family='"Liberation Sans", sans-serif' font-size="16.62" fill="#000000">Bn</text>
<rect x="117" y="1305" width="1566" height="222" fill="none" stroke="#000" stroke-width="2"/>
<text transform="translate(739.74 1295.00) scale(1.0233 1)" x="-0.60 19.40 33.43 47.68 61.72 76.48 84.70 90.56 103.06 108.98 123.37 129.28 143.45 149.57 163.72 171.00 178.38 194.43 208.32 225.80 231.72 246.24 254.98 269.40 290.68 304.74" y="0" font-family='"Liberation Sans", sans-serif' font-size="24.72" fill="#000000">Magnetic Field (RTN Frame)</text>
<text transform="rotate(-90 47.90 1417.50) translate(25.30 1417.50) scale(1.0078 1)" x="-0.31 11.59 18.06 27.86 38.63" y="0" font-family='"Liberation Sans", sans-serif' font-size="17.94" fill="#000000">B(nT)</text>
<line x1="117.50" y1="1861.00" x2="117.50" y2="1852.70" stroke="#000000" stroke-width="1.00"/>
<line x1="117.50" y1="1639.00" x2="117.50" y2="1647.30" stroke="#000000" stroke-width="1.00"/>
<text transform="translate(52.90 1883.60) scale(1.0712 1)" x="-0.04 9.86 19.93 25.01 34.91 44.83 49.76 59.66 69.73 74.80 84.71 94.77 99.85 109.75" y="0" font-family='"Liberation Sans", sans-serif' font-size="17.94" fill="#000000">09/26 06:56:08</text>
<line x1="378.50" y1="1861.00" x2="378.50" y2="1852.70" stroke="#000000" stroke-width="1.00"/>
<line x1="378.50" y1="1639.00" x2="378.50" y2="1647.30" stroke="#000000" stroke-width="1.00"/>
<text transform="translate(313.90 1883.60) scale(1.0712 1)" x="-0.04 9.86 19.93 25.01 34.91 44.83 49.76 59.66 69.73 74.80 84.71 94.77 99.85 109.75" y="0" font-family='"Liberation Sans", sans-serif' font-size="17.94" fill="#000000">09/26 06:56:13</text>
<line x1="639.50" y1="1861.00" x2="639.50" y2="1852.70" stroke="#000000" stroke-width="1.00"/>
<line x1="639.50" y1="1639.00" x2="639.50" y2="1647.30" stroke="#000000" stroke-width="1.00"/>
<text transform="translate(574.90 1883.60) scale(1.0712 1)" x="-0.04 9.86 19.93 25.01 34.91 44.83 49.76 59.66 69.73 74.80 84.71 94.77 99.85 109.75" y="0" font-family='"Liberation Sans", sans-serif' font-size="17.94" fill="#000000">09/26 06:56:18</text>
<line x1="900.50" y1="1861.00" x2="900.50" y2="1852.70" stroke="#000000" stroke-width="1.00"/>
<line x1="900.50" y1="1639.00" x2="900.50" y2="1647.30" stroke="#000000" stroke-width="1.00"/>
<text transform="translate(835.90 1883.60) scale(1.0712 1)" x="-0.04 9.86 19.93 25.01 34.91 44.83 49.76 59.66 69.73 74.80 84.71 94.77 99.85 109.75" y="0" font-family='"Liberation Sans", sans-serif' font-size="17.94" fill="#000000">09/26 06:56:23</text>
<line x1="1161.50" y1="1861.00" x2="1161.50" y2="1852.70" stroke="#000000" stroke-width="1.00"/>
<line x1="1161.50" y1="1639.00" x2="1161.50" y2="1647.30" stroke="#000000" stroke-width="1.00"/>
<text transform="translate(1096.90 1883.60) scale(1.0712 1)" x="-0.04 9.86 19.93 25.01 34.91 44.83 49.76 59.66 69.73 74.80 84.71 94.77 99.85 109.75" y="0" font-family='"Liberation Sans", sans-serif' font-size="17.94" fill="#000000">09/26 06:56:28</text>
<line x1="1422.50" y1="1861.00" x2="1422.50" y2="1852.70" stroke="#000000" stroke-width="1.00"/>
<line x1="1422.50" y1="1639.00" x2="1422.50" y2="1647.30" stroke="#000000" stroke-width="1.00"/>
<text transform="translate(1357.90 1883.60) scale(1.0712 1)" x="-0.04 9.86 19.93 25.01 34.91 44.83 49.76 59.66 69.73 74.80 84.71 94.77 99.85 109.75" y="0" font-family='"Liberation Sans", sans-serif' font-size="17.94" fill="#000000">09/26 06:56:33</text>
<line x1="1683.50" y1="1861.00" x2="1683.50" y2="1852.70" stroke="#000000" stroke-width="1.00"/>
<line x1="1683.50" y1="1639.00" x2="1683.50" y2="1647.30" stroke="#000000" stroke-width="1.00"/>
<text transform="translate(1618.90 1883.60) scale(1.0712 1)" x="-0.04 9.86 19.93 25.01 34.91 44.83 49.76 59.66 69.73 74.80 84.71 94.77 99.85 109.75" y="0" font-family='"Liberation Sans", sans-serif' font-size="17.94" fill="#000000">09/26 06:56:38</text>
<line x1="117.00" y1="1861.50" x2="125.30" y2="1861.50" stroke="#000000" stroke-width="1.00"/>
<line x1="1683.00" y1="1861.50" x2="1674.70" y2="1861.50" stroke="#000000" stroke-width="1.00"/>
<text transform="translate(62.11 1866.20) scale(1.1200 1)" x="2.34 12.75 21.69 31.16" y="0" font-family='"Liberation Sans", sans-serif' font-size="17.94" fill="#000000">−100</text>
<line x1="117.00" y1="1824.50" x2="125.30" y2="1824.50" stroke="#000000" stroke-width="1.00"/>
<line x1="1683.00" y1="1824.50" x2="1674.70" y2="1824.50" stroke="#000000" stroke-width="1.00"/>
<text transform="translate(72.72 1829.20) scale(1.1200 1)" x="2.34 12.75 21.69" y="0" font-family='"Liberation Sans", sans-serif' font-size="17.94" fill="#000000">−50</text>
<line x1="117.00" y1="1787.50" x2="125.30" y2="1787.50" stroke="#000000" stroke-width="1.00"/>
<line x1="1683.00" y1="1787.50" x2="1674.70" y2="1787.50" stroke="#000000" stroke-width="1.00"/>
<text transform="translate(97.29 1792.20) scale(1.0632 1)" x="0.00" y="0" font-family='"Liberation Sans", sans-serif' font-size="17.94" fill="#000000">0</text>
<line x1="117.00" y1="1750.50" x2="125.30" y2="1750.50" stroke="#000000" stroke-width="1.00"/>
<line x1="1683.00" y1="1750.50" x2="1674.70" y2="1750.50" stroke="#000000" stroke-width="1.00"/>
<text transform="translate(86.69 1755.20) scale(1.0632 1)" x="0.00 9.98" y="0" font-family='"Liberation Sans", sans-serif' font-size="17.94" fill="#000000">50</text>
<line x1="117.00" y1="1713.50" x2="125.30" y2="1713.50" stroke="#000000" stroke-width="1.00"/>
<line x1="1683.00" y1="1713.50" x2="1674.70" y2="1713.50" stroke="#000000" stroke-width="1.00"/>
<text transform="translate(76.08 1718.20) scale(1.0632 1)" x="0.00 9.98 19.95" y="0" font-family='"Liberation Sans", sans-serif' font-size="17.94" fill="#000000">100</text>
<line x1="117.00" y1="1676.50" x2="125.30" y2="1676.50" stroke="#000000" stroke-width="1.00"/>
<line x1="1683.00" y1="1676.50" x2="1674.70" y2="1676.50" stroke="#000000" stroke-width="1.00"/>
<text transform="translate(76.08 1681.20) scale(1.0632 1)" x="0.00 9.98 19.95" y="0" font-family='"Liberation Sans", sans-serif' font-size="17.94" fill="#000000">150</text>
<line x1="117.00" y1="1639.50" x2="125.30" y2="1639.50" stroke="#000000" stroke-width="1.00"/>
<line x1="1683.00" y1="1639.50" x2="1674.70" y2="1639.50" stroke="#000000" stroke-width="1.00"/>
<text transform="translate(76.08 1644.20) scale(1.0632 1)" x="0.00 9.98 19.95" y="0" font-family='"Liberation Sans", sans-serif' font-size="17.94" fill="#000000">200</text>
<clipPath id="c8"><rect x="117" y="1639" width="1566" height="222"/></clipPath><g clip-path="url(#c8)">
<line x1="117.00" y1="1787.50" x2="1683.00" y2="1787.50" stroke="#000000" stroke-width="1.00" stroke-dasharray="12.5,12.5"/>
<polyline fill="none" stroke="#ff0000" stroke-width="2.00" stroke-linejoin="round" points="117.0,1841.4 169.2,1836.7 221.4,1839.3 273.6,1840.1 325.8,1840.5 378.0,1841.4 430.2,1835.8 482.4,1835.8 534.6,1837.1 586.8,1837.1 639.0,1835.4 691.2,1833.7 743.4,1836.7 795.6,1840.1 847.8,1837.1 900.0,1837.5 952.2,1836.7 1004.4,1834.6 1056.6,1836.7 1108.8,1832.8 1161.0,1837.1 1213.2,1833.7 1265.4,1834.1 1317.6,1833.7 1369.8,1836.7 1422.0,1837.1 1474.2,1832.8 1526.4,1838.8 1578.6,1835.0 1630.8,1836.7 1683.0,1840.1"/>
<polyline fill="none" stroke="#008000" stroke-width="2.00" stroke-linejoin="round" points="117.0,1794.0 169.2,1788.9 221.4,1783.7 273.6,1785.9 325.8,1787.6 378.0,1788.9 430.2,1786.7 482.4,1788.0 534.6,1785.9 586.8,1785.9 639.0,1788.4 691.2,1792.3 743.4,1787.6 795.6,1784.6 847.8,1788.4 900.0,1782.9 952.2,1786.7 1004.4,1788.0 1056.6,1787.6 1108.8,1792.3 1161.0,1789.7 1213.2,1788.9 1265.4,1791.0 1317.6,1789.7 1369.8,1782.0 1422.0,1782.9 1474.2,1791.0 1526.4,1782.0 1578.6,1776.5 1630.8,1779.9 1683.0,1779.0"/>
<polyline fill="none" stroke="#0000ff" stroke-width="2.00" stroke-linejoin="round" points="117.0,1658.6 169.2,1656.5 221.4,1656.9 273.6,1658.2 325.8,1657.8 378.0,1659.0 430.2,1656.5 482.4,1656.0 534.6,1656.5 586.8,1656.0 639.0,1656.0 691.2,1656.5 743.4,1655.6 795.6,1657.3 847.8,1656.5 900.0,1656.5 952.2,1656.0 1004.4,1656.0 1056.6,1656.0 1108.8,1655.2 1161.0,1656.0 1213.2,1655.6 1265.4,1655.6 1317.6,1655.2 1369.8,1656.0 1422.0,1656.5 1474.2,1656.0 1526.4,1657.3 1578.6,1655.6 1630.8,1656.0 1683.0,1656.5"/>
<polyline fill="none" stroke="#000000" stroke-width="2.00" stroke-linejoin="round" points="117.0,1647.5 169.2,1647.5 221.4,1646.6 273.6,1647.9 325.8,1647.5 378.0,1647.9 430.2,1647.5 482.4,1647.5 534.6,1647.5 586.8,1646.6 639.0,1647.5 691.2,1648.3 743.4,1646.6 795.6,1647.5 847.8,1647.5 900.0,1647.5 952.2,1647.1 1004.4,1647.9 1056.6,1647.5 1108.8,1647.5 1161.0,1647.5 1213.2,1647.5 1265.4,1647.5 1317.6,1647.5 1369.8,1646.6 1422.0,1647.1 1474.2,1648.3 1526.4,1647.1 1578.6,1646.6 1630.8,1646.6 1683.0,1646.6"/>
</g>
<rect x="1601.2" y="1646.0" width="74.8" height="94.2" fill="#fff" stroke="#000" stroke-width="2"/>
<line x1="1609.70" y1="1658.90" x2="1632.00" y2="1658.90" stroke="#ff0000" stroke-width="2.00"/>
<text transform="translate(1647.60 1663.80) scale(1.0030 1)" x="-0.56 10.12 18.99" y="0" font-family='"Liberation Sans", sans-serif' font-size="16.62" fill="#000000">Bx'</text>
<line x1="1609.70" y1="1680.90" x2="1632.00" y2="1680.90" stroke="#008000" stroke-width="2.00"/>
<text transform="translate(1647.60 1685.80) scale(1.0030 1)" x="-0.56 10.12 18.99" y="0" font-family='"Liberation Sans", sans-serif' font-size="16.62" fill="#000000">By'</text>
<line x1="1609.70" y1="1703.00" x2="1632.00" y2="1703.00" stroke="#0000ff" stroke-width="2.00"/>
<text transform="translate(1647.60 1707.90) scale(1.0000 1)" x="-0.54 9.67 18.07" y="0" font-family='"Liberation Sans", sans-serif' font-size="16.62" fill="#000000">Bz'</text>
<line x1="1609.70" y1="1725.10" x2="1632.00" y2="1725.10" stroke="#000000" stroke-width="2.00"/>
<text transform="translate(1647.60 1730.00) scale(1.0053 1)" x="0.28 4.32 15.12" y="0" font-family='"Liberation Sans", sans-serif' font-size="16.62" fill="#000000">|B|</text>
<rect x="117" y="1639" width="1566" height="222" fill="none" stroke="#000" stroke-width="2"/>
<text transform="translate(706.39 1629.00) scale(1.0323 1)" x="-0.69 19.18 33.07 47.21 61.12 75.78 83.94 89.72 102.13 107.97 122.27 128.10 142.17 148.21 162.26 169.47 176.79 191.10 197.13 211.47 224.35 230.14 246.75 260.64 274.57 288.40 294.23 308.66 317.30 331.56 352.69 366.65" y="0" font-family='"Liberation Sans", sans-serif' font-size="24.72" fill="#000000">Magnetic Field (Flux Rope Frame)</text>
<text transform="rotate(-90 47.90 1751.50) translate(25.30 1751.50) scale(1.0078 1)" x="-0.31 11.59 18.06 27.86 38.63" y="0" font-family='"Liberation Sans", sans-serif' font-size="17.94" fill="#000000">B(nT)</text>
<line x1="117.50" y1="2194.00" x2="117.50" y2="2185.70" stroke="#000000" stroke-width="1.00"/>
<line x1="117.50" y1="1972.00" x2="117.50" y2="1980.30" stroke="#000000" stroke-width="1.00"/>
<text transform="translate(52.90 2216.60) scale(1.0712 1)" x="-0.04 9.86 19.93 25.01 34.91 44.83 49.76 59.66 69.73 74.80 84.71 94.77 99.85 109.75" y="0" font-family='"Liberation Sans", sans-serif' font-size="17.94" fill="#000000">09/26 06:56:08</text>
<line x1="378.50" y1="2194.00" x2="378.50" y2="2185.70" stroke="#000000" stroke-width="1.00"/>
<line x1="378.50" y1="1972.00" x2="378.50" y2="1980.30" stroke="#000000" stroke-width="1.00"/>
<text transform="translate(313.90 2216.60) scale(1.0712 1)" x="-0.04 9.86 19.93 25.01 34.91 44.83 49.76 59.66 69.73 74.80 84.71 94.77 99.85 109.75" y="0" font-family='"Liberation Sans", sans-serif' font-size="17.94" fill="#000000">09/26 06:56:13</text>
<line x1="639.50" y1="2194.00" x2="639.50" y2="2185.70" stroke="#000000" stroke-width="1.00"/>
<line x1="639.50" y1="1972.00" x2="639.50" y2="1980.30" stroke="#000000" stroke-width="1.00"/>
<text transform="translate(574.90 2216.60) scale(1.0712 1)" x="-0.04 9.86 19.93 25.01 34.91 44.83 49.76 59.66 69.73 74.80 84.71 94.77 99.85 109.75" y="0" font-family='"Liberation Sans", sans-serif' font-size="17.94" fill="#000000">09/26 06:56:18</text>
<line x1="900.50" y1="2194.00" x2="900.50" y2="2185.70" stroke="#000000" stroke-width="1.00"/>
<line x1="900.50" y1="1972.00" x2="900.50" y2="1980.30" stroke="#000000" stroke-width="1.00"/>
<text transform="translate(835.90 2216.60) scale(1.0712 1)" x="-0.04 9.86 19.93 25.01 34.91 44.83 49.76 59.66 69.73 74.80 84.71 94.77 99.85 109.75" y="0" font-family='"Liberation Sans", sans-serif' font-size="17.94" fill="#000000">09/26 06:56:23</text>
<line x1="1161.50" y1="2194.00" x2="1161.50" y2="2185.70" stroke="#000000" stroke-width="1.00"/>
<line x1="1161.50" y1="1972.00" x2="1161.50" y2="1980.30" stroke="#000000" stroke-width="1.00"/>
<text transform="translate(1096.90 2216.60) scale(1.0712 1)" x="-0.04 9.86 19.93 25.01 34.91 44.83 49.76 59.66 69.73 74.80 84.71 94.77 99.85 109.75" y="0" font-family='"Liberation Sans", sans-serif' font-size="17.94" fill="#000000">09/26 06:56:28</text>
<line x1="1422.50" y1="2194.00" x2="1422.50" y2="2185.70" stroke="#000000" stroke-width="1.00"/>
<line x1="1422.50" y1="1972.00" x2="1422.50" y2="1980.30" stroke="#000000" stroke-width="1.00"/>
<text transform="translate(1357.90 2216.60) scale(1.0712 1)" x="-0.04 9.86 19.93 25.01 34.91 44.83 49.76 59.66 69.73 74.80 84.71 94.77 99.85 109.75" y="0" font-family='"Liberation Sans", sans-serif' font-size="17.94" fill="#000000">09/26 06:56:33</text>
<line x1="1683.50" y1="2194.00" x2="1683.50" y2="2185.70" stroke="#000000" stroke-width="1.00"/>
<line x1="1683.50" y1="1972.00" x2="1683.50" y2="1980.30" stroke="#000000" stroke-width="1.00"/>
<text transform="translate(1618.90 2216.60) scale(1.0712 1)" x="-0.04 9.86 19.93 25.01 34.91 44.83 49.76 59.66 69.73 74.80 84.71 94.77 99.85 109.75" y="0" font-family='"Liberation Sans", sans-serif' font-size="17.94" fill="#000000">09/26 06:56:38</text>
<line x1="117.00" y1="2194.50" x2="125.30" y2="2194.50" stroke="#000000" stroke-width="1.00"/>
<line x1="1683.00" y1="2194.50" x2="1674.70" y2="2194.50" stroke="#000000" stroke-width="1.00"/>
<text transform="translate(62.11 2199.20) scale(1.1200 1)" x="2.34 12.75 21.69 31.16" y="0" font-family='"Liberation Sans", sans-serif' font-size="17.94" fill="#000000">−200</text>
<line x1="117.00" y1="2162.50" x2="125.30" y2="2162.50" stroke="#000000" stroke-width="1.00"/>
<line x1="1683.00" y1="2162.50" x2="1674.70" y2="2162.50" stroke="#000000" stroke-width="1.00"/>
<text transform="translate(62.11 2167.49) scale(1.1200 1)" x="2.34 12.75 21.69 31.16" y="0" font-family='"Liberation Sans", sans-serif' font-size="17.94" fill="#000000">−100</text>
<line x1="117.00" y1="2130.50" x2="125.30" y2="2130.50" stroke="#000000" stroke-width="1.00"/>
<line x1="1683.00" y1="2130.50" x2="1674.70" y2="2130.50" stroke="#000000" stroke-width="1.00"/>
<text transform="translate(97.29 2135.77) scale(1.0632 1)" x="0.00" y="0" font-family='"Liberation Sans", sans-serif' font-size="17.94" fill="#000000">0</text>
<line x1="117.00" y1="2098.50" x2="125.30" y2="2098.50" stroke="#000000" stroke-width="1.00"/>
<line x1="1683.00" y1="2098.50" x2="1674.70" y2="2098.50" stroke="#000000" stroke-width="1.00"/>
<text transform="translate(76.08 2104.06) scale(1.0632 1)" x="0.00 9.98 19.95" y="0" font-family='"Liberation Sans", sans-serif' font-size="17.94" fill="#000000">100</text>
<line x1="117.00" y1="2067.50" x2="125.30" y2="2067.50" stroke="#000000" stroke-width="1.00"/>
<line x1="1683.00" y1="2067.50" x2="1674.70" y2="2067.50" stroke="#000000" stroke-width="1.00"/>
<text transform="translate(76.08 2072.34) scale(1.0632 1)" x="0.00 9.98 19.95" y="0" font-family='"Liberation Sans", sans-serif' font-size="17.94" fill="#000000">200</text>
<line x1="117.00" y1="2035.50" x2="125.30" y2="2035.50" stroke="#000000" stroke-width="1.00"/>
<line x1="1683.00" y1="2035.50" x2="1674.70" y2="2035.50" stroke="#000000" stroke-width="1.00"/>
<text transform="translate(76.08 2040.63) scale(1.0632 1)" x="0.00 9.98 19.95" y="0" font-family='"Liberation Sans", sans-serif' font-size="17.94" fill="#000000">300</text>
<line x1="117.00" y1="2003.50" x2="125.30" y2="2003.50" stroke="#000000" stroke-width="1.00"/>
<line x1="1683.00" y1="2003.50" x2="1674.70" y2="2003.50" stroke="#000000" stroke-width="1.00"/>
<text transform="translate(76.08 2008.91) scale(1.0632 1)" x="0.00 9.98 19.95" y="0" font-family='"Liberation Sans", sans-serif' font-size="17.94" fill="#000000">400</text>
<line x1="117.00" y1="1972.50" x2="125.30" y2="1972.50" stroke="#000000" stroke-width="1.00"/>
<line x1="1683.00" y1="1972.50" x2="1674.70" y2="1972.50" stroke="#000000" stroke-width="1.00"/>
<text transform="translate(76.08 1977.20) scale(1.0632 1)" x="0.00 9.98 19.95" y="0" font-family='"Liberation Sans", sans-serif' font-size="17.94" fill="#000000">500</text>
<clipPath id="c9"><rect x="117" y="1972" width="1566" height="222"/></clipPath><g clip-path="url(#c9)">
<polyline fill="none" stroke="#ff0000" stroke-width="2.00" stroke-linejoin="round" points="117.0,2001.0 169.2,2001.9 221.4,2004.4 273.6,2004.4 325.8,2001.0 378.0,2001.9 430.2,2001.0 482.4,2003.6 534.6,2001.0 586.8,2002.3 639.0,2000.6 691.2,2000.1 743.4,2001.4 795.6,2001.4 847.8,2004.4 900.0,2001.0 952.2,2001.9 1004.4,2002.3 1056.6,2002.7 1108.8,2001.4 1161.0,2001.9 1213.2,2000.6 1265.4,2001.4 1317.6,2000.6 1369.8,2002.7 1422.0,2002.3 1474.2,2000.6 1526.4,2004.0 1578.6,2003.1 1630.8,2002.7 1683.0,2001.9"/>
<polyline fill="none" stroke="#008000" stroke-width="2.00" stroke-linejoin="round" points="117.0,2149.6 169.2,2153.5 221.4,2159.4 273.6,2158.1 325.8,2148.8 378.0,2156.4 430.2,2152.6 482.4,2156.9 534.6,2155.6 586.8,2156.0 639.0,2152.6 691.2,2154.3 743.4,2152.2 795.6,2152.6 847.8,2163.7 900.0,2151.3 952.2,2159.4 1004.4,2153.5 1056.6,2156.9 1108.8,2153.0 1161.0,2154.7 1213.2,2153.5 1265.4,2156.9 1317.6,2150.0 1369.8,2158.1 1422.0,2157.7 1474.2,2152.6 1526.4,2161.6 1578.6,2159.4 1630.8,2156.4 1683.0,2149.2"/>
<polyline fill="none" stroke="#0000ff" stroke-width="2.00" stroke-linejoin="round" points="117.0,2097.5 169.2,2095.8 221.4,2097.5 273.6,2103.5 325.8,2099.2 378.0,2092.4 430.2,2096.7 482.4,2096.2 534.6,2088.1 586.8,2097.9 639.0,2092.8 691.2,2093.7 743.4,2096.7 795.6,2094.1 847.8,2095.4 900.0,2096.7 952.2,2093.7 1004.4,2095.4 1056.6,2096.2 1108.8,2098.4 1161.0,2096.2 1213.2,2095.8 1265.4,2093.2 1317.6,2092.4 1369.8,2094.5 1422.0,2094.1 1474.2,2095.8 1526.4,2094.5 1578.6,2096.2 1630.8,2097.5 1683.0,2097.9"/>
</g>
<rect x="1604.5" y="1979.0" width="71.5" height="71.5" fill="#fff" stroke="#000" stroke-width="2"/>
<line x1="1613.20" y1="1991.90" x2="1635.40" y2="1991.90" stroke="#ff0000" stroke-width="2.00"/>
<text transform="translate(1651.00 1996.80) scale(1.0000 1)" x="-0.56 10.20" y="0" font-family='"Liberation Sans", sans-serif' font-size="16.62" fill="#000000">Vr</text>
<line x1="1613.20" y1="2014.20" x2="1635.40" y2="2014.20" stroke="#008000" stroke-width="2.00"/>
<text transform="translate(1651.00 2019.10) scale(1.0000 1)" x="-0.56 10.52" y="0" font-family='"Liberation Sans", sans-serif' font-size="16.62" fill="#000000">Vt</text>
<line x1="1613.20" y1="2036.60" x2="1635.40" y2="2036.60" stroke="#0000ff" stroke-width="2.00"/>
<text transform="translate(1651.00 2041.50) scale(1.0000 1)" x="-0.56 9.97" y="0" font-family='"Liberation Sans", sans-serif' font-size="16.62" fill="#000000">Vn</text>
<rect x="117" y="1972" width="1566" height="222" fill="none" stroke="#000" stroke-width="2"/>
<text transform="translate(711.65 1962.00) scale(1.0269 1)" x="-1.14 14.19 28.28 34.13 48.35 57.20 63.60 86.71 92.79 106.99 121.10 127.51 143.43 157.56 163.39 177.10 189.80 196.61 204.89 217.82 225.07 232.40 248.40 262.24 279.67 285.56 300.04 308.75 323.09 344.32 358.33" y="0" font-family='"Liberation Sans", sans-serif' font-size="24.72" fill="#000000">Solar Wind Velocity (RTN Frame)</text>
<text transform="rotate(-90 47.90 2084.50) translate(4.44 2084.50) scale(1.0386 1)" x="-0.49 10.68 19.43 32.61 38.89 48.37 63.87 68.77 77.58" y="0" font-family='"Liberation Sans", sans-serif' font-size="17.94" fill="#000000">Vsw(km/s)</text>
<line x1="117.50" y1="2528.00" x2="117.50" y2="2519.70" stroke="#000000" stroke-width="1.00"/>
<line x1="117.50" y1="2306.00" x2="117.50" y2="2314.30" stroke="#000000" stroke-width="1.00"/>
<text transform="translate(52.90 2550.60) scale(1.0712 1)" x="-0.04 9.86 19.93 25.01 34.91 44.83 49.76 59.66 69.73 74.80 84.71 94.77 99.85 109.75" y="0" font-family='"Liberation Sans", sans-serif' font-size="17.94" fill="#000000">09/26 06:56:08</text>
<line x1="378.50" y1="2528.00" x2="378.50" y2="2519.70" stroke="#000000" stroke-width="1.00"/>
<line x1="378.50" y1="2306.00" x2="378.50" y2="2314.30" stroke="#000000" stroke-width="1.00"/>
<text transform="translate(313.90 2550.60) scale(1.0712 1)" x="-0.04 9.86 19.93 25.01 34.91 44.83 49.76 59.66 69.73 74.80 84.71 94.77 99.85 109.75" y="0" font-family='"Liberation Sans", sans-serif' font-size="17.94" fill="#000000">09/26 06:56:13</text>
<line x1="639.50" y1="2528.00" x2="639.50" y2="2519.70" stroke="#000000" stroke-width="1.00"/>
<line x1="639.50" y1="2306.00" x2="639.50" y2="2314.30" stroke="#000000" stroke-width="1.00"/>
<text transform="translate(574.90 2550.60) scale(1.0712 1)" x="-0.04 9.86 19.93 25.01 34.91 44.83 49.76 59.66 69.73 74.80 84.71 94.77 99.85 109.75" y="0" font-family='"Liberation Sans", sans-serif' font-size="17.94" fill="#000000">09/26 06:56:18</text>
<line x1="900.50" y1="2528.00" x2="900.50" y2="2519.70" stroke="#000000" stroke-width="1.00"/>
<line x1="900.50" y1="2306.00" x2="900.50" y2="2314.30" stroke="#000000" stroke-width="1.00"/>
<text transform="translate(835.90 2550.60) scale(1.0712 1)" x="-0.04 9.86 19.93 25.01 34.91 44.83 49.76 59.66 69.73 74.80 84.71 94.77 99.85 109.75" y="0" font-family='"Liberation Sans", sans-serif' font-size="17.94" fill="#000000">09/26 06:56:23</text>
<line x1="1161.50" y1="2528.00" x2="1161.50" y2="2519.70" stroke="#000000" stroke-width="1.00"/>
<line x1="1161.50" y1="2306.00" x2="1161.50" y2="2314.30" stroke="#000000" stroke-width="1.00"/>
<text transform="translate(1096.90 2550.60) scale(1.0712 1)" x="-0.04 9.86 19.93 25.01 34.91 44.83 49.76 59.66 69.73 74.80 84.71 94.77 99.85 109.75" y="0" font-family='"Liberation Sans", sans-serif' font-size="17.94" fill="#000000">09/26 06:56:28</text>
<line x1="1422.50" y1="2528.00" x2="1422.50" y2="2519.70" stroke="#000000" stroke-width="1.00"/>
<line x1="1422.50" y1="2306.00" x2="1422.50" y2="2314.30" stroke="#000000" stroke-width="1.00"/>
<text transform="translate(1357.90 2550.60) scale(1.0712 1)" x="-0.04 9.86 19.93 25.01 34.91 44.83 49.76 59.66 69.73 74.80 84.71 94.77 99.85 109.75" y="0" font-family='"Liberation Sans", sans-serif' font-size="17.94" fill="#000000">09/26 06:56:33</text>
<line x1="1683.50" y1="2528.00" x2="1683.50" y2="2519.70" stroke="#000000" stroke-width="1.00"/>
<line x1="1683.50" y1="2306.00" x2="1683.50" y2="2314.30" stroke="#000000" stroke-width="1.00"/>
<text transform="translate(1618.90 2550.60) scale(1.0712 1)" x="-0.04 9.86 19.93 25.01 34.91 44.83 49.76 59.66 69.73 74.80 84.71 94.77 99.85 109.75" y="0" font-family='"Liberation Sans", sans-serif' font-size="17.94" fill="#000000">09/26 06:56:38</text>
<line x1="117.00" y1="2528.50" x2="125.30" y2="2528.50" stroke="#000000" stroke-width="1.00"/>
<line x1="1683.00" y1="2528.50" x2="1674.70" y2="2528.50" stroke="#000000" stroke-width="1.00"/>
<text transform="translate(70.78 2533.20) scale(1.0632 1)" x="-0.00 9.98 14.96 24.93" y="0" font-family='"Liberation Sans", sans-serif' font-size="17.94" fill="#000000">0.03</text>
<line x1="117.00" y1="2478.50" x2="125.30" y2="2478.50" stroke="#000000" stroke-width="1.00"/>
<line x1="1683.00" y1="2478.50" x2="1674.70" y2="2478.50" stroke="#000000" stroke-width="1.00"/>
<text transform="translate(70.78 2483.87) scale(1.0632 1)" x="-0.00 9.98 14.96 24.93" y="0" font-family='"Liberation Sans", sans-serif' font-size="17.94" fill="#000000">0.04</text>
<line x1="117.00" y1="2429.50" x2="125.30" y2="2429.50" stroke="#000000" stroke-width="1.00"/>
<line x1="1683.00" y1="2429.50" x2="1674.70" y2="2429.50" stroke="#000000" stroke-width="1.00"/>
<text transform="translate(70.78 2434.53) scale(1.0632 1)" x="-0.00 9.98 14.96 24.93" y="0" font-family='"Liberation Sans", sans-serif' font-size="17.94" fill="#000000">0.05</text>
<line x1="117.00" y1="2380.50" x2="125.30" y2="2380.50" stroke="#000000" stroke-width="1.00"/>
<line x1="1683.00" y1="2380.50" x2="1674.70" y2="2380.50" stroke="#000000" stroke-width="1.00"/>
<text transform="translate(70.78 2385.20) scale(1.0632 1)" x="-0.00 9.98 14.96 24.93" y="0" font-family='"Liberation Sans", sans-serif' font-size="17.94" fill="#000000">0.06</text>
<line x1="117.00" y1="2330.50" x2="125.30" y2="2330.50" stroke="#000000" stroke-width="1.00"/>
<line x1="1683.00" y1="2330.50" x2="1674.70" y2="2330.50" stroke="#000000" stroke-width="1.00"/>
<text transform="translate(70.78 2335.87) scale(1.0632 1)" x="-0.00 9.98 14.96 24.93" y="0" font-family='"Liberation Sans", sans-serif' font-size="17.94" fill="#000000">0.07</text>
<clipPath id="c10"><rect x="117" y="2306" width="1566" height="222"/></clipPath><g clip-path="url(#c10)">
<polyline fill="none" stroke="#0000ff" stroke-width="2.00" stroke-linejoin="round" points="117.0,2493.3 169.2,2493.3 221.4,2468.5 273.6,2501.8 325.8,2512.9 378.0,2425.8 430.2,2489.9 482.4,2442.9 534.6,2364.3 586.8,2491.1 639.0,2420.2 691.2,2424.5 743.4,2478.3 795.6,2448.4 847.8,2424.5 900.0,2501.4 952.2,2448.0 1004.4,2419.0 1056.6,2453.6 1108.8,2494.1 1161.0,2466.8 1213.2,2479.6 1265.4,2428.4 1317.6,2328.0 1369.8,2469.4 1422.0,2409.1 1474.2,2500.1 1526.4,2442.9 1578.6,2472.8 1630.8,2503.5 1683.0,2480.0"/>
</g>
<rect x="117" y="2306" width="1566" height="222" fill="none" stroke="#000" stroke-width="2"/>
<text transform="translate(828.41 2296.00) scale(1.0215 1)" x="-1.46 13.96 19.86 33.32 46.03 67.32 81.24 87.73 103.75 118.53 126.40" y="0" font-family='"Liberation Sans", sans-serif' font-size="24.72" fill="#000000">Plasma Beta</text>
<text x="53.50" y="2424.50" font-family='"Liberation Serif", serif' font-size="16.50" font-style="italic" fill="#222" textLength="8.60" lengthAdjust="spacingAndGlyphs" transform="rotate(-90 53.50 2424.50)">β</text>
<text x="57.20" y="2415.20" font-family='"Liberation Serif", serif' font-size="11.50" font-style="italic" fill="#222" transform="rotate(-90 57.20 2415.20)">p</text>
<line x1="117.50" y1="2861.00" x2="117.50" y2="2852.70" stroke="#000000" stroke-width="1.00"/>
<line x1="117.50" y1="2639.00" x2="117.50" y2="2647.30" stroke="#000000" stroke-width="1.00"/>
<text transform="translate(52.90 2883.60) scale(1.0712 1)" x="-0.04 9.86 19.93 25.01 34.91 44.83 49.76 59.66 69.73 74.80 84.71 94.77 99.85 109.75" y="0" font-family='"Liberation Sans", sans-serif' font-size="17.94" fill="#000000">09/26 06:56:08</text>
<line x1="378.50" y1="2861.00" x2="378.50" y2="2852.70" stroke="#000000" stroke-width="1.00"/>
<line x1="378.50" y1="2639.00" x2="378.50" y2="2647.30" stroke="#000000" stroke-width="1.00"/>
<text transform="translate(313.90 2883.60) scale(1.0712 1)" x="-0.04 9.86 19.93 25.01 34.91 44.83 49.76 59.66 69.73 74.80 84.71 94.77 99.85 109.75" y="0" font-family='"Liberation Sans", sans-serif' font-size="17.94" fill="#000000">09/26 06:56:13</text>
<line x1="639.50" y1="2861.00" x2="639.50" y2="2852.70" stroke="#000000" stroke-width="1.00"/>
<line x1="639.50" y1="2639.00" x2="639.50" y2="2647.30" stroke="#000000" stroke-width="1.00"/>
<text transform="translate(574.90 2883.60) scale(1.0712 1)" x="-0.04 9.86 19.93 25.01 34.91 44.83 49.76 59.66 69.73 74.80 84.71 94.77 99.85 109.75" y="0" font-family='"Liberation Sans", sans-serif' font-size="17.94" fill="#000000">09/26 06:56:18</text>
<line x1="900.50" y1="2861.00" x2="900.50" y2="2852.70" stroke="#000000" stroke-width="1.00"/>
<line x1="900.50" y1="2639.00" x2="900.50" y2="2647.30" stroke="#000000" stroke-width="1.00"/>
<text transform="translate(835.90 2883.60) scale(1.0712 1)" x="-0.04 9.86 19.93 25.01 34.91 44.83 49.76 59.66 69.73 74.80 84.71 94.77 99.85 109.75" y="0" font-family='"Liberation Sans", sans-serif' font-size="17.94" fill="#000000">09/26 06:56:23</text>
<line x1="1161.50" y1="2861.00" x2="1161.50" y2="2852.70" stroke="#000000" stroke-width="1.00"/>
<line x1="1161.50" y1="2639.00" x2="1161.50" y2="2647.30" stroke="#000000" stroke-width="1.00"/>
<text transform="translate(1096.90 2883.60) scale(1.0712 1)" x="-0.04 9.86 19.93 25.01 34.91 44.83 49.76 59.66 69.73 74.80 84.71 94.77 99.85 109.75" y="0" font-family='"Liberation Sans", sans-serif' font-size="17.94" fill="#000000">09/26 06:56:28</text>
<line x1="1422.50" y1="2861.00" x2="1422.50" y2="2852.70" stroke="#000000" stroke-width="1.00"/>
<line x1="1422.50" y1="2639.00" x2="1422.50" y2="2647.30" stroke="#000000" stroke-width="1.00"/>
<text transform="translate(1357.90 2883.60) scale(1.0712 1)" x="-0.04 9.86 19.93 25.01 34.91 44.83 49.76 59.66 69.73 74.80 84.71 94.77 99.85 109.75" y="0" font-family='"Liberation Sans", sans-serif' font-size="17.94" fill="#000000">09/26 06:56:33</text>
<line x1="1683.50" y1="2861.00" x2="1683.50" y2="2852.70" stroke="#000000" stroke-width="1.00"/>
<line x1="1683.50" y1="2639.00" x2="1683.50" y2="2647.30" stroke="#000000" stroke-width="1.00"/>
<text transform="translate(1618.90 2883.60) scale(1.0712 1)" x="-0.04 9.86 19.93 25.01 34.91 44.83 49.76 59.66 69.73 74.80 84.71 94.77 99.85 109.75" y="0" font-family='"Liberation Sans", sans-serif' font-size="17.94" fill="#000000">09/26 06:56:38</text>
<line x1="117.00" y1="2861.50" x2="125.30" y2="2861.50" stroke="#000000" stroke-width="1.00"/>
<line x1="1683.00" y1="2861.50" x2="1674.70" y2="2861.50" stroke="#000000" stroke-width="1.00"/>
<text transform="translate(76.08 2866.20) scale(1.0632 1)" x="0.00 9.98 19.95" y="0" font-family='"Liberation Sans", sans-serif' font-size="17.94" fill="#000000">180</text>
<line x1="117.00" y1="2829.50" x2="125.30" y2="2829.50" stroke="#000000" stroke-width="1.00"/>
<line x1="1683.00" y1="2829.50" x2="1674.70" y2="2829.50" stroke="#000000" stroke-width="1.00"/>
<text transform="translate(76.08 2834.49) scale(1.0632 1)" x="0.00 9.98 19.95" y="0" font-family='"Liberation Sans", sans-serif' font-size="17.94" fill="#000000">190</text>
<line x1="117.00" y1="2797.50" x2="125.30" y2="2797.50" stroke="#000000" stroke-width="1.00"/>
<line x1="1683.00" y1="2797.50" x2="1674.70" y2="2797.50" stroke="#000000" stroke-width="1.00"/>
<text transform="translate(76.08 2802.77) scale(1.0632 1)" x="0.00 9.98 19.95" y="0" font-family='"Liberation Sans", sans-serif' font-size="17.94" fill="#000000">200</text>
<line x1="117.00" y1="2765.50" x2="125.30" y2="2765.50" stroke="#000000" stroke-width="1.00"/>
<line x1="1683.00" y1="2765.50" x2="1674.70" y2="2765.50" stroke="#000000" stroke-width="1.00"/>
<text transform="translate(76.08 2771.06) scale(1.0632 1)" x="0.00 9.98 19.95" y="0" font-family='"Liberation Sans", sans-serif' font-size="17.94" fill="#000000">210</text>
<line x1="117.00" y1="2734.50" x2="125.30" y2="2734.50" stroke="#000000" stroke-width="1.00"/>
<line x1="1683.00" y1="2734.50" x2="1674.70" y2="2734.50" stroke="#000000" stroke-width="1.00"/>
<text transform="translate(76.08 2739.34) scale(1.0632 1)" x="0.00 9.98 19.95" y="0" font-family='"Liberation Sans", sans-serif' font-size="17.94" fill="#000000">220</text>
<line x1="117.00" y1="2702.50" x2="125.30" y2="2702.50" stroke="#000000" stroke-width="1.00"/>
<line x1="1683.00" y1="2702.50" x2="1674.70" y2="2702.50" stroke="#000000" stroke-width="1.00"/>
<text transform="translate(76.08 2707.63) scale(1.0632 1)" x="0.00 9.98 19.95" y="0" font-family='"Liberation Sans", sans-serif' font-size="17.94" fill="#000000">230</text>
<line x1="117.00" y1="2670.50" x2="125.30" y2="2670.50" stroke="#000000" stroke-width="1.00"/>
<line x1="1683.00" y1="2670.50" x2="1674.70" y2="2670.50" stroke="#000000" stroke-width="1.00"/>
<text transform="translate(76.08 2675.91) scale(1.0632 1)" x="0.00 9.98 19.95" y="0" font-family='"Liberation Sans", sans-serif' font-size="17.94" fill="#000000">240</text>
<line x1="117.00" y1="2639.50" x2="125.30" y2="2639.50" stroke="#000000" stroke-width="1.00"/>
<line x1="1683.00" y1="2639.50" x2="1674.70" y2="2639.50" stroke="#000000" stroke-width="1.00"/>
<text transform="translate(76.08 2644.20) scale(1.0632 1)" x="0.00 9.98 19.95" y="0" font-family='"Liberation Sans", sans-serif' font-size="17.94" fill="#000000">250</text>
<clipPath id="c11"><rect x="117" y="2639" width="1566" height="222"/></clipPath><g clip-path="url(#c11)">
<polyline fill="none" stroke="#0000ff" stroke-width="2.00" stroke-linejoin="round" points="117.0,2829.3 169.2,2767.8 221.4,2739.6 273.6,2751.1 325.8,2839.1 378.0,2705.8 430.2,2809.6 482.4,2745.1 534.6,2654.6 586.8,2808.3 639.0,2736.6 691.2,2751.1 743.4,2789.5 795.6,2763.9 847.8,2671.2 900.0,2833.5 952.2,2725.5 1004.4,2754.5 1056.6,2748.5 1108.8,2816.0 1161.0,2777.2 1213.2,2796.8 1265.4,2727.6 1317.6,2712.7 1369.8,2763.5 1422.0,2728.9 1474.2,2815.6 1526.4,2687.5 1578.6,2774.6 1630.8,2820.3 1683.0,2790.8"/>
</g>
<rect x="117" y="2639" width="1566" height="222" fill="none" stroke="#000" stroke-width="2"/>
<text transform="translate(765.24 2629.00) scale(1.0488 1)" x="-1.63 13.61 22.07 36.52 44.09 57.74 71.62 77.81 95.02 109.22 130.29 143.99 158.00 166.68 173.12 190.36 204.05 217.41 229.60 236.26 244.30" y="0" font-family='"Liberation Sans", sans-serif' font-size="24.72" fill="#000000">Proton Number Density</text>
<text transform="rotate(-90 62.60 2751.50) translate(25.61 2751.50) scale(1.0915 1)" x="-0.76 11.28 21.11 28.49 39.95 44.73 53.13 61.81" y="0" font-family='"Liberation Sans", sans-serif' font-size="17.94" fill="#000000">Np(#/cc)</text>
<line x1="117.50" y1="3195.00" x2="117.50" y2="3186.70" stroke="#000000" stroke-width="1.00"/>
<line x1="117.50" y1="2973.00" x2="117.50" y2="2981.30" stroke="#000000" stroke-width="1.00"/>
<text transform="translate(52.90 3217.60) scale(1.0712 1)" x="-0.04 9.86 19.93 25.01 34.91 44.83 49.76 59.66 69.73 74.80 84.71 94.77 99.85 109.75" y="0" font-family='"Liberation Sans", sans-serif' font-size="17.94" fill="#000000">09/26 06:56:08</text>
<line x1="378.50" y1="3195.00" x2="378.50" y2="3186.70" stroke="#000000" stroke-width="1.00"/>
<line x1="378.50" y1="2973.00" x2="378.50" y2="2981.30" stroke="#000000" stroke-width="1.00"/>
<text transform="translate(313.90 3217.60) scale(1.0712 1)" x="-0.04 9.86 19.93 25.01 34.91 44.83 49.76 59.66 69.73 74.80 84.71 94.77 99.85 109.75" y="0" font-family='"Liberation Sans", sans-serif' font-size="17.94" fill="#000000">09/26 06:56:13</text>
<line x1="639.50" y1="3195.00" x2="639.50" y2="3186.70" stroke="#000000" stroke-width="1.00"/>
<line x1="639.50" y1="2973.00" x2="639.50" y2="2981.30" stroke="#000000" stroke-width="1.00"/>
<text transform="translate(574.90 3217.60) scale(1.0712 1)" x="-0.04 9.86 19.93 25.01 34.91 44.83 49.76 59.66 69.73 74.80 84.71 94.77 99.85 109.75" y="0" font-family='"Liberation Sans", sans-serif' font-size="17.94" fill="#000000">09/26 06:56:18</text>
<line x1="900.50" y1="3195.00" x2="900.50" y2="3186.70" stroke="#000000" stroke-width="1.00"/>
<line x1="900.50" y1="2973.00" x2="900.50" y2="2981.30" stroke="#000000" stroke-width="1.00"/>
<text transform="translate(835.90 3217.60) scale(1.0712 1)" x="-0.04 9.86 19.93 25.01 34.91 44.83 49.76 59.66 69.73 74.80 84.71 94.77 99.85 109.75" y="0" font-family='"Liberation Sans", sans-serif' font-size="17.94" fill="#000000">09/26 06:56:23</text>
<line x1="1161.50" y1="3195.00" x2="1161.50" y2="3186.70" stroke="#000000" stroke-width="1.00"/>
<line x1="1161.50" y1="2973.00" x2="1161.50" y2="2981.30" stroke="#000000" stroke-width="1.00"/>
<text transform="translate(1096.90 3217.60) scale(1.0712 1)" x="-0.04 9.86 19.93 25.01 34.91 44.83 49.76 59.66 69.73 74.80 84.71 94.77 99.85 109.75" y="0" font-family='"Liberation Sans", sans-serif' font-size="17.94" fill="#000000">09/26 06:56:28</text>
<line x1="1422.50" y1="3195.00" x2="1422.50" y2="3186.70" stroke="#000000" stroke-width="1.00"/>
<line x1="1422.50" y1="2973.00" x2="1422.50" y2="2981.30" stroke="#000000" stroke-width="1.00"/>
<text transform="translate(1357.90 3217.60) scale(1.0712 1)" x="-0.04 9.86 19.93 25.01 34.91 44.83 49.76 59.66 69.73 74.80 84.71 94.77 99.85 109.75" y="0" font-family='"Liberation Sans", sans-serif' font-size="17.94" fill="#000000">09/26 06:56:33</text>
<line x1="1683.50" y1="3195.00" x2="1683.50" y2="3186.70" stroke="#000000" stroke-width="1.00"/>
<line x1="1683.50" y1="2973.00" x2="1683.50" y2="2981.30" stroke="#000000" stroke-width="1.00"/>
<text transform="translate(1618.90 3217.60) scale(1.0712 1)" x="-0.04 9.86 19.93 25.01 34.91 44.83 49.76 59.66 69.73 74.80 84.71 94.77 99.85 109.75" y="0" font-family='"Liberation Sans", sans-serif' font-size="17.94" fill="#000000">09/26 06:56:38</text>
<line x1="117.00" y1="3195.50" x2="125.30" y2="3195.50" stroke="#000000" stroke-width="1.00"/>
<line x1="1683.00" y1="3195.50" x2="1674.70" y2="3195.50" stroke="#000000" stroke-width="1.00"/>
<text transform="translate(70.78 3200.20) scale(1.0632 1)" x="-0.00 9.98 14.96 24.93" y="0" font-family='"Liberation Sans", sans-serif' font-size="17.94" fill="#000000">0.16</text>
<line x1="117.00" y1="3167.50" x2="125.30" y2="3167.50" stroke="#000000" stroke-width="1.00"/>
<line x1="1683.00" y1="3167.50" x2="1674.70" y2="3167.50" stroke="#000000" stroke-width="1.00"/>
<text transform="translate(70.78 3172.45) scale(1.0632 1)" x="-0.00 9.98 14.96 24.93" y="0" font-family='"Liberation Sans", sans-serif' font-size="17.94" fill="#000000">0.18</text>
<line x1="117.00" y1="3139.50" x2="125.30" y2="3139.50" stroke="#000000" stroke-width="1.00"/>
<line x1="1683.00" y1="3139.50" x2="1674.70" y2="3139.50" stroke="#000000" stroke-width="1.00"/>
<text transform="translate(70.78 3144.70) scale(1.0632 1)" x="-0.00 9.98 14.96 24.93" y="0" font-family='"Liberation Sans", sans-serif' font-size="17.94" fill="#000000">0.20</text>
<line x1="117.00" y1="3111.50" x2="125.30" y2="3111.50" stroke="#000000" stroke-width="1.00"/>
<line x1="1683.00" y1="3111.50" x2="1674.70" y2="3111.50" stroke="#000000" stroke-width="1.00"/>
<text transform="translate(70.78 3116.95) scale(1.0632 1)" x="-0.00 9.98 14.96 24.93" y="0" font-family='"Liberation Sans", sans-serif' font-size="17.94" fill="#000000">0.22</text>
<line x1="117.00" y1="3084.50" x2="125.30" y2="3084.50" stroke="#000000" stroke-width="1.00"/>
<line x1="1683.00" y1="3084.50" x2="1674.70" y2="3084.50" stroke="#000000" stroke-width="1.00"/>
<text transform="translate(70.78 3089.20) scale(1.0632 1)" x="-0.00 9.98 14.96 24.93" y="0" font-family='"Liberation Sans", sans-serif' font-size="17.94" fill="#000000">0.24</text>
<line x1="117.00" y1="3056.50" x2="125.30" y2="3056.50" stroke="#000000" stroke-width="1.00"/>
<line x1="1683.00" y1="3056.50" x2="1674.70" y2="3056.50" stroke="#000000" stroke-width="1.00"/>
<text transform="translate(70.78 3061.45) scale(1.0632 1)" x="-0.00 9.98 14.96 24.93" y="0" font-family='"Liberation Sans", sans-serif' font-size="17.94" fill="#000000">0.26</text>
<line x1="117.00" y1="3028.50" x2="125.30" y2="3028.50" stroke="#000000" stroke-width="1.00"/>
<line x1="1683.00" y1="3028.50" x2="1674.70" y2="3028.50" stroke="#000000" stroke-width="1.00"/>
<text transform="translate(70.78 3033.70) scale(1.0632 1)" x="-0.00 9.98 14.96 24.93" y="0" font-family='"Liberation Sans", sans-serif' font-size="17.94" fill="#000000">0.28</text>
<line x1="117.00" y1="3000.50" x2="125.30" y2="3000.50" stroke="#000000" stroke-width="1.00"/>
<line x1="1683.00" y1="3000.50" x2="1674.70" y2="3000.50" stroke="#000000" stroke-width="1.00"/>
<text transform="translate(70.78 3005.95) scale(1.0632 1)" x="-0.00 9.98 14.96 24.93" y="0" font-family='"Liberation Sans", sans-serif' font-size="17.94" fill="#000000">0.30</text>
<line x1="117.00" y1="2973.50" x2="125.30" y2="2973.50" stroke="#000000" stroke-width="1.00"/>
<line x1="1683.00" y1="2973.50" x2="1674.70" y2="2973.50" stroke="#000000" stroke-width="1.00"/>
<text transform="translate(70.78 2978.20) scale(1.0632 1)" x="-0.00 9.98 14.96 24.93" y="0" font-family='"Liberation Sans", sans-serif' font-size="17.94" fill="#000000">0.32</text>
<clipPath id="c12"><rect x="117" y="2973" width="1567" height="222"/></clipPath><g clip-path="url(#c12)">
<polyline fill="none" stroke="#0000ff" stroke-width="2.00" stroke-linejoin="round" points="117.0,3142.6 169.2,3166.9 221.4,3141.3 273.6,3185.7 325.8,3166.1 378.0,3105.4 430.2,3145.6 482.4,3107.2 534.6,3052.1 586.8,3144.7 639.0,3082.0 691.2,3083.7 743.4,3132.8 795.6,3105.0 847.8,3115.3 900.0,3150.7 952.2,3121.2 1004.4,3073.4 1056.6,3119.5 1108.8,3147.7 1161.0,3124.2 1213.2,3135.8 1265.4,3096.0 1317.6,2973.5 1369.8,3133.6 1422.0,3069.6 1474.2,3159.3 1526.4,3131.1 1578.6,3134.9 1630.8,3157.5 1683.0,3135.3"/>
</g>
<rect x="124.0" y="2980.0" width="71.0" height="27.0" fill="#fff" stroke="#000" stroke-width="2"/>
<line x1="134.20" y1="2993.00" x2="155.50" y2="2993.00" stroke="#0000ff" stroke-width="2.00"/>
<text transform="translate(170.70 2997.90) scale(1.0000 1)" x="-0.62 8.91" y="0" font-family='"Liberation Sans", sans-serif' font-size="16.62" fill="#000000">Tp</text>
<rect x="117" y="2973" width="1566" height="222" fill="none" stroke="#000" stroke-width="2"/>
<text transform="translate(727.60 2963.00) scale(1.0511 1)" x="-1.65 13.58 22.01 36.43 43.98 57.60 71.46 77.50 91.59 105.56 126.58 140.26 154.24 162.69 177.12 184.90 199.10 207.57 221.22 227.96 241.59 255.47 269.34" y="0" font-family='"Liberation Sans", sans-serif' font-size="24.72" fill="#000000">Proton Temperature and </text>
<text x="1015.50" y="2963.00" font-family='"Liberation Serif", serif' font-size="23.00" font-style="italic" fill="#000000" textLength="14.00" lengthAdjust="spacingAndGlyphs">T</text>
<text x="1028.80" y="2966.50" font-family='"Liberation Serif", serif' font-size="16.10" font-style="italic" fill="#000000" textLength="7.60" lengthAdjust="spacingAndGlyphs">e</text>
<text x="1039.00" y="2965.00" font-family='"Liberation Serif", serif' font-size="25.00" fill="#000000" textLength="10.50" lengthAdjust="spacingAndGlyphs">/</text>
<text x="1051.20" y="2963.00" font-family='"Liberation Serif", serif' font-size="23.00" font-style="italic" fill="#000000" textLength="14.00" lengthAdjust="spacingAndGlyphs">T</text>
<text x="1064.30" y="2966.50" font-family='"Liberation Serif", serif' font-size="16.10" font-style="italic" fill="#000000" textLength="7.80" lengthAdjust="spacingAndGlyphs">p</text>
<text transform="rotate(-90 53.00 3119.50) translate(53.00 3119.50) scale(1.0135 1)" x="-0.45 10.28 20.71" y="0" font-family='"Liberation Sans", sans-serif' font-size="17.94" fill="#000000">Tp(</text>
<text x="53.00" y="3091.40" font-family='"Liberation Serif", serif' font-size="17.60" fill="#000000" textLength="12.80" lengthAdjust="spacingAndGlyphs" transform="rotate(-90 53.00 3091.40)">10</text>
<text x="47.00" y="3076.30" font-family='"Liberation Serif", serif' font-size="12.20" fill="#000000" textLength="6.20" lengthAdjust="spacingAndGlyphs" transform="rotate(-90 47.00 3076.30)">6</text>
<text transform="rotate(-90 53.00 3068.00) translate(53.00 3068.00) scale(1.0000 1)" x="-0.52 11.20" y="0" font-family='"Liberation Sans", sans-serif' font-size="17.94" fill="#000000">K)</text>
</svg>
</div>
</body></html>
